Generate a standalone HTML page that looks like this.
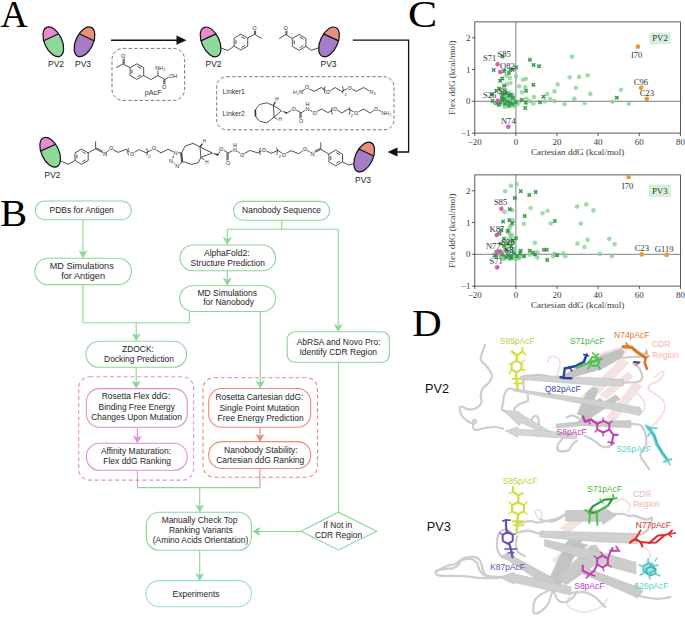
<!DOCTYPE html>
<html><head><meta charset="utf-8"><style>
html,body{margin:0;padding:0;background:#fff;width:685px;height:621px;overflow:hidden}
svg{display:block}
</style></head><body>
<svg width="685" height="621" viewBox="0 0 685 621">
<rect width="685" height="621" fill="#fff"/>
<text transform="translate(0.5,26.6) scale(1.02,1)" font-size="37" fill="#000" font-family='"Liberation Serif", serif'>A</text>
<text transform="translate(0.0,225.6) scale(1.1,1)" font-size="37" fill="#000" font-family='"Liberation Serif", serif'>B</text>
<text transform="translate(408.1,26.8) scale(1.15,1)" font-size="38" fill="#000" font-family='"Liberation Serif", serif'>C</text>
<text transform="translate(412.3,336.4) scale(1.1,1)" font-size="37" fill="#000" font-family='"Liberation Serif", serif'>D</text>
<g transform="translate(53.3,41.8) rotate(-25)">
<clipPath id="cp1"><ellipse cx="0" cy="0" rx="8.7" ry="15.9"/></clipPath>
<ellipse cx="0" cy="0" rx="8.7" ry="15.9" fill="#8fd89b"/>
<rect x="-8.7" y="-15.9" width="17.4" height="10.9" fill="#e58bcf" clip-path="url(#cp1)"/>
<line x1="-8.26" y1="-5.0" x2="8.26" y2="-5.0" stroke="#111" stroke-width="1.2"/>
<ellipse cx="0" cy="0" rx="8.7" ry="15.9" fill="none" stroke="#111" stroke-width="1.2"/>
</g>
<g transform="translate(84.5,41.8) rotate(25)">
<clipPath id="cp2"><ellipse cx="0" cy="0" rx="8.7" ry="15.9"/></clipPath>
<ellipse cx="0" cy="0" rx="8.7" ry="15.9" fill="#a77cc6"/>
<rect x="-8.7" y="-15.9" width="17.4" height="10.9" fill="#e8907f" clip-path="url(#cp2)"/>
<line x1="-8.26" y1="-5.0" x2="8.26" y2="-5.0" stroke="#111" stroke-width="1.2"/>
<ellipse cx="0" cy="0" rx="8.7" ry="15.9" fill="none" stroke="#111" stroke-width="1.2"/>
</g>
<text x="56.0" y="66.5" font-size="8.4" fill="#222" text-anchor="middle" font-family='"Liberation Sans", sans-serif' >PV2</text>
<text x="83.0" y="66.5" font-size="8.4" fill="#222" text-anchor="middle" font-family='"Liberation Sans", sans-serif' >PV3</text>
<g transform="translate(210.6,41.9) rotate(-25)">
<clipPath id="cp3"><ellipse cx="0" cy="0" rx="8.7" ry="15.9"/></clipPath>
<ellipse cx="0" cy="0" rx="8.7" ry="15.9" fill="#8fd89b"/>
<rect x="-8.7" y="-15.9" width="17.4" height="10.9" fill="#e58bcf" clip-path="url(#cp3)"/>
<line x1="-8.26" y1="-5.0" x2="8.26" y2="-5.0" stroke="#111" stroke-width="1.2"/>
<ellipse cx="0" cy="0" rx="8.7" ry="15.9" fill="none" stroke="#111" stroke-width="1.2"/>
</g>
<text x="213.5" y="66.5" font-size="8.4" fill="#222" text-anchor="middle" font-family='"Liberation Sans", sans-serif' >PV2</text>
<g transform="translate(329,41.9) rotate(25)">
<clipPath id="cp4"><ellipse cx="0" cy="0" rx="8.7" ry="15.9"/></clipPath>
<ellipse cx="0" cy="0" rx="8.7" ry="15.9" fill="#a77cc6"/>
<rect x="-8.7" y="-15.9" width="17.4" height="10.9" fill="#e8907f" clip-path="url(#cp4)"/>
<line x1="-8.26" y1="-5.0" x2="8.26" y2="-5.0" stroke="#111" stroke-width="1.2"/>
<ellipse cx="0" cy="0" rx="8.7" ry="15.9" fill="none" stroke="#111" stroke-width="1.2"/>
</g>
<text x="328.5" y="66.5" font-size="8.4" fill="#222" text-anchor="middle" font-family='"Liberation Sans", sans-serif' >PV3</text>
<g transform="translate(50.2,152.2) rotate(-25)">
<clipPath id="cp5"><ellipse cx="0" cy="0" rx="8.7" ry="15.9"/></clipPath>
<ellipse cx="0" cy="0" rx="8.7" ry="15.9" fill="#8fd89b"/>
<rect x="-8.7" y="-15.9" width="17.4" height="10.9" fill="#e58bcf" clip-path="url(#cp5)"/>
<line x1="-8.26" y1="-5.0" x2="8.26" y2="-5.0" stroke="#111" stroke-width="1.2"/>
<ellipse cx="0" cy="0" rx="8.7" ry="15.9" fill="none" stroke="#111" stroke-width="1.2"/>
</g>
<text x="52.5" y="177.5" font-size="8.4" fill="#222" text-anchor="middle" font-family='"Liberation Sans", sans-serif' >PV2</text>
<g transform="translate(364.2,157) rotate(25)">
<clipPath id="cp6"><ellipse cx="0" cy="0" rx="8.7" ry="15.9"/></clipPath>
<ellipse cx="0" cy="0" rx="8.7" ry="15.9" fill="#a77cc6"/>
<rect x="-8.7" y="-15.9" width="17.4" height="10.9" fill="#e8907f" clip-path="url(#cp6)"/>
<line x1="-8.26" y1="-5.0" x2="8.26" y2="-5.0" stroke="#111" stroke-width="1.2"/>
<ellipse cx="0" cy="0" rx="8.7" ry="15.9" fill="none" stroke="#111" stroke-width="1.2"/>
</g>
<text x="363.0" y="182.5" font-size="8.4" fill="#222" text-anchor="middle" font-family='"Liberation Sans", sans-serif' >PV3</text>
<line x1="111" y1="40.2" x2="179" y2="40.2" stroke="#111" stroke-width="1.4"/>
<polygon points="186.5,40.2 176.5,35.6 176.5,44.8" fill="#111"/>
<polyline points="352.8,40.2 408.6,40.2 408.6,152 395,152" fill="none" stroke="#111" stroke-width="1.3"/>
<polygon points="387.5,152 397.5,147.4 397.5,156.6" fill="#111"/>
<rect x="112" y="48.4" width="72.6" height="52" rx="11" fill="none" stroke="#555" stroke-width="0.8" stroke-dasharray="3.4,2.2"/>
<rect x="216.7" y="76.7" width="177.3" height="53.1" rx="10" fill="none" stroke="#555" stroke-width="0.8" stroke-dasharray="3.4,2.2"/>
<polygon points="136.9,63.8 143.7,67.7 143.7,75.5 136.9,79.4 130.1,75.5 130.1,67.7" fill="none" stroke="#333" stroke-width="0.85"/>
<line x1="137.6" y1="66.4" x2="141.0" y2="68.4" stroke="#333" stroke-width="0.85"/>
<line x1="141.0" y1="74.8" x2="137.6" y2="76.8" stroke="#333" stroke-width="0.85"/>
<line x1="132.0" y1="73.6" x2="132.0" y2="69.6" stroke="#333" stroke-width="0.85"/>
<polyline points="116.1,67.8 123.1,63.9 130.1,67.7" fill="none" stroke="#333" stroke-width="0.85" stroke-linejoin="round"/>
<line x1="123.1" y1="63.9" x2="123.1" y2="56.5" stroke="#333" stroke-width="0.85"/>
<line x1="124.2" y1="63.9" x2="124.2" y2="56.5" stroke="#333" stroke-width="0.85"/>
<text x="123.1" y="57.5" font-size="5.6" fill="#333" text-anchor="middle" font-family='"Liberation Sans", sans-serif' stroke="#fff" stroke-width="1.6" paint-order="stroke">O</text>
<polyline points="143.7,75.5 150.9,79.5 157.9,75.6 164.9,79.5 170.5,76.3" fill="none" stroke="#333" stroke-width="0.85" stroke-linejoin="round"/>
<line x1="157.9" y1="75.6" x2="157.9" y2="70.0" stroke="#333" stroke-width="0.85"/>
<text x="160.2" y="69.8" font-size="5.6" fill="#333" text-anchor="middle" font-family='"Liberation Sans", sans-serif' stroke="#fff" stroke-width="1.6" paint-order="stroke">NH<tspan font-size="3.6" dy="1">2</tspan></text>
<text x="173.1" y="77.6" font-size="5.6" fill="#333" text-anchor="middle" font-family='"Liberation Sans", sans-serif' stroke="#fff" stroke-width="1.6" paint-order="stroke">OH</text>
<line x1="164.9" y1="79.5" x2="164.9" y2="85.5" stroke="#333" stroke-width="0.85"/>
<line x1="163.8" y1="79.5" x2="163.8" y2="85.5" stroke="#333" stroke-width="0.85"/>
<text x="164.2" y="89.0" font-size="5.6" fill="#333" text-anchor="middle" font-family='"Liberation Sans", sans-serif' stroke="#fff" stroke-width="1.6" paint-order="stroke">O</text>
<text x="153.2" y="95.2" font-size="7.2" fill="#333" text-anchor="middle" font-family='"Liberation Sans", sans-serif' >pAcF</text>
<polygon points="240.9,34.2 247.7,38.1 247.7,46.1 240.9,50.0 234.1,46.1 234.1,38.1" fill="none" stroke="#333" stroke-width="0.85"/>
<line x1="241.6" y1="36.8" x2="245.1" y2="38.8" stroke="#333" stroke-width="0.85"/>
<line x1="245.1" y1="45.4" x2="241.6" y2="47.4" stroke="#333" stroke-width="0.85"/>
<line x1="236.0" y1="44.1" x2="236.0" y2="40.1" stroke="#333" stroke-width="0.85"/>
<polyline points="220.5,47.8 228.0,50.5 234.1,46.1" fill="none" stroke="#333" stroke-width="0.85" stroke-linejoin="round"/>
<polyline points="247.7,38.1 254.5,34.3 261.7,38.5" fill="none" stroke="#333" stroke-width="0.85" stroke-linejoin="round"/>
<line x1="254.5" y1="34.3" x2="254.5" y2="28.8" stroke="#333" stroke-width="0.85"/>
<line x1="255.6" y1="34.3" x2="255.6" y2="28.8" stroke="#333" stroke-width="0.85"/>
<text x="254.5" y="29.5" font-size="5.6" fill="#333" text-anchor="middle" font-family='"Liberation Sans", sans-serif' stroke="#fff" stroke-width="1.6" paint-order="stroke">O</text>
<polygon points="299.1,34.5 305.9,38.4 305.9,46.4 299.1,50.3 292.3,46.4 292.3,38.4" fill="none" stroke="#333" stroke-width="0.85"/>
<line x1="299.8" y1="37.1" x2="303.3" y2="39.1" stroke="#333" stroke-width="0.85"/>
<line x1="303.3" y1="45.7" x2="299.8" y2="47.7" stroke="#333" stroke-width="0.85"/>
<line x1="294.2" y1="44.4" x2="294.2" y2="40.4" stroke="#333" stroke-width="0.85"/>
<polyline points="279.2,38.6 285.8,34.6 292.3,38.4" fill="none" stroke="#333" stroke-width="0.85" stroke-linejoin="round"/>
<line x1="285.8" y1="34.6" x2="285.8" y2="28.8" stroke="#333" stroke-width="0.85"/>
<line x1="286.9" y1="34.6" x2="286.9" y2="28.8" stroke="#333" stroke-width="0.85"/>
<text x="285.8" y="29.5" font-size="5.6" fill="#333" text-anchor="middle" font-family='"Liberation Sans", sans-serif' stroke="#fff" stroke-width="1.6" paint-order="stroke">O</text>
<polyline points="305.9,46.4 311.4,50.3 319.5,47.5" fill="none" stroke="#333" stroke-width="0.85" stroke-linejoin="round"/>
<text x="222.6" y="93.5" font-size="6.8" fill="#333" text-anchor="start" font-family='"Liberation Sans", sans-serif' >Linker1</text>
<text x="222.6" y="116.4" font-size="6.8" fill="#333" text-anchor="start" font-family='"Liberation Sans", sans-serif' >Linker2</text>
<text x="298.0" y="94.2" font-size="5.6" fill="#333" text-anchor="middle" font-family='"Liberation Sans", sans-serif' stroke="#fff" stroke-width="1.6" paint-order="stroke">H<tspan font-size="3.6" dy="1">2</tspan><tspan dy="-1">N</tspan></text>
<polyline points="301.8,91.4 307.0,87.6 314.0,91.4 321.3,87.5 328.3,91.9 335.1,87.5 341.7,91.4 349.7,87.5 356.3,91.4 363.6,87.5 370.0,91.4" fill="none" stroke="#333" stroke-width="0.85" stroke-linejoin="round"/>
<text x="307.0" y="89.3" font-size="5.6" fill="#333" text-anchor="middle" font-family='"Liberation Sans", sans-serif' stroke="#fff" stroke-width="1.6" paint-order="stroke">O</text>
<text x="328.3" y="93.9" font-size="5.6" fill="#333" text-anchor="middle" font-family='"Liberation Sans", sans-serif' stroke="#fff" stroke-width="1.6" paint-order="stroke">O</text>
<text x="349.7" y="89.5" font-size="5.6" fill="#333" text-anchor="middle" font-family='"Liberation Sans", sans-serif' stroke="#fff" stroke-width="1.6" paint-order="stroke">O</text>
<text x="372.5" y="94.2" font-size="5.6" fill="#333" text-anchor="middle" font-family='"Liberation Sans", sans-serif' stroke="#fff" stroke-width="1.6" paint-order="stroke">N<tspan font-size="3.6" dy="1">3</tspan></text>
<path d="M325.0,86.2 Q323.2,89.8 325.0,93.4" fill="none" stroke="#333" stroke-width="0.8"/>
<path d="M342.4,86.2 Q344.2,89.8 342.4,93.4" fill="none" stroke="#333" stroke-width="0.8"/>
<text x="344.5" y="96" font-size="4.4" fill="#333" font-family='"Liberation Sans", sans-serif'>2</text>
<polygon points="273.4,105.5 266.5,102.8 259.5,104.5 255.3,110.0 255.6,116.5 259.8,121.3 266.8,122.8 274.1,117.2" fill="none" stroke="#333" stroke-width="0.85" stroke-linejoin="round"/>
<line x1="255.3" y1="110.0" x2="255.6" y2="116.5" stroke="#333" stroke-width="1.6"/>
<polyline points="273.4,105.5 281.4,110.7 274.1,117.2" fill="none" stroke="#333" stroke-width="0.85" stroke-linejoin="round"/>
<polygon points="281.4,110.7 286.7,114 287.2,112.2" fill="#333"/>
<line x1="273.4" y1="105.5" x2="275.5" y2="101.5" stroke="#333" stroke-width="1.3"/>
<text x="277.0" y="101.4" font-size="4.6" fill="#333" text-anchor="middle" font-family='"Liberation Sans", sans-serif' stroke="#fff" stroke-width="1.6" paint-order="stroke">H</text>
<line x1="274.1" y1="117.2" x2="277.5" y2="119.5" stroke="#333" stroke-width="0.85"/>
<text x="280.2" y="121.3" font-size="4.6" fill="#333" text-anchor="middle" font-family='"Liberation Sans", sans-serif' stroke="#fff" stroke-width="1.6" paint-order="stroke">H</text>
<polyline points="286.8,113.2 293.8,108.7 301.1,112.8 307.4,108.7 314.7,113.0 321.3,109.0 328.0,112.6 335.1,108.7 341.7,113.0 348.3,109.0 356.3,113.0 363.6,109.0 370.2,113.0 376.0,108.7 383.0,112.6" fill="none" stroke="#333" stroke-width="0.85" stroke-linejoin="round"/>
<line x1="301.1" y1="112.8" x2="301.1" y2="119.5" stroke="#333" stroke-width="0.85"/>
<line x1="300.0" y1="112.8" x2="300.0" y2="119.5" stroke="#333" stroke-width="0.85"/>
<text x="293.8" y="110.7" font-size="5.6" fill="#333" text-anchor="middle" font-family='"Liberation Sans", sans-serif' stroke="#fff" stroke-width="1.6" paint-order="stroke">O</text>
<text x="301.1" y="123.0" font-size="5.6" fill="#333" text-anchor="middle" font-family='"Liberation Sans", sans-serif' stroke="#fff" stroke-width="1.6" paint-order="stroke">O</text>
<text x="307.4" y="110.7" font-size="5.6" fill="#333" text-anchor="middle" font-family='"Liberation Sans", sans-serif' stroke="#fff" stroke-width="1.6" paint-order="stroke">N</text>
<text x="307.4" y="106.3" font-size="5.6" fill="#333" text-anchor="middle" font-family='"Liberation Sans", sans-serif' stroke="#fff" stroke-width="1.6" paint-order="stroke">H</text>
<text x="314.7" y="115.0" font-size="5.6" fill="#333" text-anchor="middle" font-family='"Liberation Sans", sans-serif' stroke="#fff" stroke-width="1.6" paint-order="stroke">O</text>
<text x="335.1" y="110.7" font-size="5.6" fill="#333" text-anchor="middle" font-family='"Liberation Sans", sans-serif' stroke="#fff" stroke-width="1.6" paint-order="stroke">O</text>
<text x="356.3" y="115.0" font-size="5.6" fill="#333" text-anchor="middle" font-family='"Liberation Sans", sans-serif' stroke="#fff" stroke-width="1.6" paint-order="stroke">O</text>
<text x="376.0" y="110.7" font-size="5.6" fill="#333" text-anchor="middle" font-family='"Liberation Sans", sans-serif' stroke="#fff" stroke-width="1.6" paint-order="stroke">O</text>
<text x="386.2" y="115.0" font-size="5.6" fill="#333" text-anchor="middle" font-family='"Liberation Sans", sans-serif' stroke="#fff" stroke-width="1.6" paint-order="stroke">NH<tspan font-size="3.6" dy="1">2</tspan></text>
<path d="M332.3,107.2 Q330.5,110.8 332.3,114.4" fill="none" stroke="#333" stroke-width="0.8"/>
<path d="M349.2,107.2 Q351.0,110.8 349.2,114.4" fill="none" stroke="#333" stroke-width="0.8"/>
<text x="350.5" y="117" font-size="4.4" fill="#333" font-family='"Liberation Sans", sans-serif'>2</text>
<polygon points="81.6,149.1 88.2,152.9 88.2,160.5 81.6,164.3 75.0,160.5 75.0,152.9" fill="none" stroke="#333" stroke-width="0.85"/>
<line x1="82.3" y1="151.6" x2="85.6" y2="153.6" stroke="#333" stroke-width="0.85"/>
<line x1="85.6" y1="159.8" x2="82.3" y2="161.8" stroke="#333" stroke-width="0.85"/>
<line x1="76.9" y1="158.6" x2="76.9" y2="154.8" stroke="#333" stroke-width="0.85"/>
<polyline points="59.5,160.5 68.1,164.2 75.0,160.5" fill="none" stroke="#333" stroke-width="0.85" stroke-linejoin="round"/>
<polyline points="88.2,152.9 95.6,148.9" fill="none" stroke="#333" stroke-width="0.85" stroke-linejoin="round"/>
<line x1="95.6" y1="148.9" x2="95.6" y2="141.4" stroke="#333" stroke-width="0.85"/>
<line x1="95.6" y1="148.9" x2="104.5" y2="153.5" stroke="#333" stroke-width="0.85"/>
<line x1="96.1" y1="147.9" x2="105.0" y2="152.5" stroke="#333" stroke-width="0.85"/>
<text x="104.9" y="156.2" font-size="5.6" fill="#333" text-anchor="middle" font-family='"Liberation Sans", sans-serif' stroke="#fff" stroke-width="1.6" paint-order="stroke">N</text>
<polyline points="104.9,153.7 111.1,148.4 118.1,152.4 126.0,149.3 132.1,153.8 139.1,149.6 146.1,152.8 154.0,148.6 161.0,152.8 168.0,149.3 174.5,152.5" fill="none" stroke="#333" stroke-width="0.85" stroke-linejoin="round"/>
<text x="111.1" y="150.4" font-size="5.6" fill="#333" text-anchor="middle" font-family='"Liberation Sans", sans-serif' stroke="#fff" stroke-width="1.6" paint-order="stroke">O</text>
<text x="132.1" y="156.2" font-size="5.6" fill="#333" text-anchor="middle" font-family='"Liberation Sans", sans-serif' stroke="#fff" stroke-width="1.6" paint-order="stroke">O</text>
<text x="154.0" y="150.4" font-size="5.6" fill="#333" text-anchor="middle" font-family='"Liberation Sans", sans-serif' stroke="#fff" stroke-width="1.6" paint-order="stroke">O</text>
<path d="M128.5,148.2 Q126.7,151.8 128.5,155.4" fill="none" stroke="#333" stroke-width="0.8"/>
<path d="M146.7,148.2 Q148.5,151.8 146.7,155.4" fill="none" stroke="#333" stroke-width="0.8"/>
<text x="148.2" y="158" font-size="4.4" fill="#333" font-family='"Liberation Sans", sans-serif'>2</text>
<polygon points="175.5,152.5 181.6,153.0 182.5,161.8 177.3,166.2 171.1,160.9" fill="none" stroke="#333" stroke-width="0.85" stroke-linejoin="round"/>
<line x1="181.6" y1="153.0" x2="182.5" y2="161.8" stroke="#333" stroke-width="0.85"/>
<line x1="180.6" y1="153.1" x2="181.5" y2="161.9" stroke="#333" stroke-width="0.85"/>
<text x="175.5" y="154.5" font-size="5.6" fill="#333" text-anchor="middle" font-family='"Liberation Sans", sans-serif' stroke="#fff" stroke-width="1.6" paint-order="stroke">N</text>
<text x="171.1" y="162.9" font-size="5.6" fill="#333" text-anchor="middle" font-family='"Liberation Sans", sans-serif' stroke="#fff" stroke-width="1.6" paint-order="stroke">N</text>
<text x="177.3" y="168.2" font-size="5.6" fill="#333" text-anchor="middle" font-family='"Liberation Sans", sans-serif' stroke="#fff" stroke-width="1.6" paint-order="stroke">N</text>
<polyline points="181.6,153.0 185.1,146.0 193.0,143.4 200.0,146.9 200.9,157.4 198.3,162.7 191.3,164.4 184.3,161.8 182.5,161.8" fill="none" stroke="#333" stroke-width="0.85" stroke-linejoin="round"/>
<polyline points="200.0,146.9 212.3,153.0 200.9,157.4" fill="none" stroke="#333" stroke-width="0.85" stroke-linejoin="round"/>
<polygon points="212.3,153 217.8,156 218.5,154" fill="#333"/>
<line x1="200.0" y1="146.9" x2="202.5" y2="143.5" stroke="#333" stroke-width="1.3"/>
<text x="204.4" y="143.3" font-size="4.6" fill="#333" text-anchor="middle" font-family='"Liberation Sans", sans-serif' stroke="#fff" stroke-width="1.6" paint-order="stroke">H</text>
<line x1="200.9" y1="157.4" x2="204.5" y2="160.0" stroke="#333" stroke-width="0.85"/>
<text x="207.0" y="163.5" font-size="4.6" fill="#333" text-anchor="middle" font-family='"Liberation Sans", sans-serif' stroke="#fff" stroke-width="1.6" paint-order="stroke">H</text>
<polyline points="218.0,155.0 221.1,148.7 228.1,153.0 235.1,149.5 242.1,154.8 250.0,150.4 257.9,153.0 264.0,149.5 271.0,153.4 278.0,150.4 284.0,154.5 291.0,150.7 298.9,153.7 305.0,148.9 312.4,153.7" fill="none" stroke="#333" stroke-width="0.85" stroke-linejoin="round"/>
<line x1="228.1" y1="153.0" x2="228.1" y2="161.0" stroke="#333" stroke-width="0.85"/>
<line x1="227.0" y1="153.0" x2="227.0" y2="161.0" stroke="#333" stroke-width="0.85"/>
<text x="221.1" y="150.7" font-size="5.6" fill="#333" text-anchor="middle" font-family='"Liberation Sans", sans-serif' stroke="#fff" stroke-width="1.6" paint-order="stroke">O</text>
<text x="228.1" y="164.7" font-size="5.6" fill="#333" text-anchor="middle" font-family='"Liberation Sans", sans-serif' stroke="#fff" stroke-width="1.6" paint-order="stroke">O</text>
<text x="235.1" y="151.5" font-size="5.6" fill="#333" text-anchor="middle" font-family='"Liberation Sans", sans-serif' stroke="#fff" stroke-width="1.6" paint-order="stroke">N</text>
<text x="235.1" y="146.6" font-size="5.6" fill="#333" text-anchor="middle" font-family='"Liberation Sans", sans-serif' stroke="#fff" stroke-width="1.6" paint-order="stroke">H</text>
<text x="242.1" y="156.8" font-size="5.6" fill="#333" text-anchor="middle" font-family='"Liberation Sans", sans-serif' stroke="#fff" stroke-width="1.6" paint-order="stroke">O</text>
<text x="264.0" y="151.5" font-size="5.6" fill="#333" text-anchor="middle" font-family='"Liberation Sans", sans-serif' stroke="#fff" stroke-width="1.6" paint-order="stroke">O</text>
<text x="284.0" y="156.5" font-size="5.6" fill="#333" text-anchor="middle" font-family='"Liberation Sans", sans-serif' stroke="#fff" stroke-width="1.6" paint-order="stroke">O</text>
<text x="305.0" y="150.9" font-size="5.6" fill="#333" text-anchor="middle" font-family='"Liberation Sans", sans-serif' stroke="#fff" stroke-width="1.6" paint-order="stroke">O</text>
<path d="M260.4,147.7 Q258.6,151.3 260.4,154.9" fill="none" stroke="#333" stroke-width="0.8"/>
<path d="M276.7,147.7 Q278.5,151.3 276.7,154.9" fill="none" stroke="#333" stroke-width="0.8"/>
<text x="278.5" y="158" font-size="4.4" fill="#333" font-family='"Liberation Sans", sans-serif'>2</text>
<line x1="312.4" y1="153.7" x2="320.8" y2="149.3" stroke="#333" stroke-width="0.85"/>
<line x1="311.9" y1="152.7" x2="320.3" y2="148.3" stroke="#333" stroke-width="0.85"/>
<text x="312.4" y="156.0" font-size="5.6" fill="#333" text-anchor="middle" font-family='"Liberation Sans", sans-serif' stroke="#fff" stroke-width="1.6" paint-order="stroke">N</text>
<line x1="320.8" y1="149.3" x2="320.8" y2="142.3" stroke="#333" stroke-width="0.85"/>
<polygon points="335.7,150.1 342.5,154.1 342.5,161.9 335.7,165.9 328.9,161.9 328.9,154.1" fill="none" stroke="#333" stroke-width="0.85"/>
<line x1="336.4" y1="152.7" x2="339.9" y2="154.7" stroke="#333" stroke-width="0.85"/>
<line x1="339.9" y1="161.3" x2="336.4" y2="163.3" stroke="#333" stroke-width="0.85"/>
<line x1="330.8" y1="160.0" x2="330.8" y2="156.0" stroke="#333" stroke-width="0.85"/>
<polyline points="320.8,149.3 328.9,154.1" fill="none" stroke="#333" stroke-width="0.85" stroke-linejoin="round"/>
<polyline points="342.5,161.9 348.8,165.0 354.0,163.5" fill="none" stroke="#333" stroke-width="0.85" stroke-linejoin="round"/>
<polyline points="83,219.7 83,256" fill="none" stroke="#8dd598" stroke-width="1.1"/>
<polygon points="83,258.3 78.5,250.3 83,252.3 87.5,250.3" fill="#8dd598"/>
<polyline points="83,284.6 83,322.8 189.3,322.8 189.3,311.5" fill="none" stroke="#8dd598" stroke-width="1.1"/>
<polyline points="136.2,322.8 136.2,339" fill="none" stroke="#8dd598" stroke-width="1.1"/>
<polygon points="136.2,341.2 131.7,333.2 136.2,335.2 140.7,333.2" fill="#8dd598"/>
<polyline points="281.7,220.5 281.7,229.2" fill="none" stroke="#8dd598" stroke-width="1.1"/>
<polyline points="227.3,229.2 338.2,229.2" fill="none" stroke="#8dd598" stroke-width="1.1"/>
<polyline points="227.3,229.2 227.3,243" fill="none" stroke="#8dd598" stroke-width="1.1"/>
<polygon points="227.3,245 222.8,237 227.3,239 231.8,237" fill="#8dd598"/>
<polyline points="338.2,229.2 338.2,330" fill="none" stroke="#8dd598" stroke-width="1.1"/>
<polygon points="338.2,331.9 333.7,323.9 338.2,325.9 342.7,323.9" fill="#8dd598"/>
<polyline points="227.3,270.7 227.3,284" fill="none" stroke="#8dd598" stroke-width="1.1"/>
<polygon points="227.3,285.7 222.8,277.7 227.3,279.7 231.8,277.7" fill="#8dd598"/>
<polyline points="136.2,367.2 136.2,387" fill="none" stroke="#8dd598" stroke-width="1.1"/>
<polygon points="136.2,388.7 131.7,380.7 136.2,382.7 140.7,380.7" fill="#8dd598"/>
<polyline points="260.2,311.5 260.2,387" fill="none" stroke="#8dd598" stroke-width="1.1"/>
<polygon points="260.2,388.4 255.7,380.4 260.2,382.4 264.7,380.4" fill="#8dd598"/>
<polyline points="137.4,427.4 137.4,442" fill="none" stroke="#e08fd2" stroke-width="1.1"/>
<polygon points="137.4,443.4 132.9,435.4 137.4,437.4 141.9,435.4" fill="#e08fd2"/>
<polyline points="259.9,427.4 259.9,440.5" fill="none" stroke="#e88a7c" stroke-width="1.1"/>
<polygon points="259.9,441.9 255.39999999999998,433.9 259.9,435.9 264.4,433.9" fill="#e88a7c"/>
<polyline points="137.4,470.4 137.4,487.6" fill="none" stroke="#e08fd2" stroke-width="1.1"/>
<polyline points="259.9,468.5 259.9,487.6" fill="none" stroke="#e88a7c" stroke-width="1.1"/>
<polyline points="137.4,487.6 259.9,487.6" fill="none" stroke="#8dd598" stroke-width="1.1"/>
<polyline points="199.7,487.6 199.7,511" fill="none" stroke="#8dd598" stroke-width="1.1"/>
<polygon points="199.7,512.5 195.2,504.5 199.7,506.5 204.2,504.5" fill="#8dd598"/>
<polyline points="199.7,550.6 199.7,579" fill="none" stroke="#8dd598" stroke-width="1.1"/>
<polygon points="199.7,581 195.2,573 199.7,575 204.2,573" fill="#8dd598"/>
<polyline points="338.6,362.4 338.6,512.2" fill="none" stroke="#8dd598" stroke-width="1.1"/>
<polyline points="301,531.5 254,531.5" fill="none" stroke="#8dd598" stroke-width="1.1"/>
<polygon points="252.3,531.5 260.3,527.0 258.3,531.5 260.3,536.0" fill="#8dd598"/>
<rect x="78.7" y="376.8" width="114.9" height="103.3" rx="11" fill="none" stroke="#e08fd2" stroke-width="1.1" stroke-dasharray="4,2.8"/>
<rect x="203.1" y="377.7" width="114.4" height="99.5" rx="11" fill="none" stroke="#e88a7c" stroke-width="1.1" stroke-dasharray="4,2.8"/>
<rect x="35.3" y="201" width="96.1" height="18.7" rx="9.349999999999994" fill="#fff" stroke="#8dd598" stroke-width="1.1"/>
<text x="81.7" y="212.6" font-size="8.45" fill="#1e1e1e" text-anchor="middle" font-family='"Liberation Sans", sans-serif' >PDBs for Antigen</text>
<rect x="34.9" y="258.3" width="96.5" height="26.3" rx="13" fill="#fff" stroke="#8dd598" stroke-width="1.1"/>
<text x="81.7" y="268.9" font-size="9.17" fill="#1e1e1e" text-anchor="middle" font-family='"Liberation Sans", sans-serif' >MD Simulations</text>
<text x="83.1" y="279.0" font-size="9.2" fill="#1e1e1e" text-anchor="middle" font-family='"Liberation Sans", sans-serif' >for Antigen</text>
<rect x="233.4" y="201.4" width="96.3" height="18.8" rx="9.399999999999991" fill="#fff" stroke="#8dd598" stroke-width="1.1"/>
<text x="281.6" y="212.9" font-size="8.46" fill="#1e1e1e" text-anchor="middle" font-family='"Liberation Sans", sans-serif' >Nanobody Sequence</text>
<rect x="180" y="245" width="95.6" height="25.7" rx="12.849999999999994" fill="#fff" stroke="#8dd598" stroke-width="1.1"/>
<text x="226.8" y="256.1" font-size="8.58" fill="#1e1e1e" text-anchor="middle" font-family='"Liberation Sans", sans-serif' >AlphaFold2:</text>
<text x="227.8" y="265.9" font-size="8.47" fill="#1e1e1e" text-anchor="middle" font-family='"Liberation Sans", sans-serif' >Structure Prediction</text>
<rect x="179.7" y="285.7" width="95.9" height="25.8" rx="12.900000000000006" fill="#fff" stroke="#8dd598" stroke-width="1.1"/>
<text x="227.3" y="295.5" font-size="8.53" fill="#1e1e1e" text-anchor="middle" font-family='"Liberation Sans", sans-serif' >MD Simulations</text>
<text x="228.6" y="305.4" font-size="8.48" fill="#1e1e1e" text-anchor="middle" font-family='"Liberation Sans", sans-serif' >for Nanobody</text>
<rect x="85.9" y="341.3" width="100.7" height="26.0" rx="13.0" fill="#fff" stroke="#8dd598" stroke-width="1.1"/>
<text x="138.0" y="351.8" font-size="8.44" fill="#1e1e1e" text-anchor="middle" font-family='"Liberation Sans", sans-serif' >ZDOCK:</text>
<text x="139.0" y="361.6" font-size="8.4" fill="#1e1e1e" text-anchor="middle" font-family='"Liberation Sans", sans-serif' >Docking Prediction</text>
<rect x="287.2" y="331.8" width="102.2" height="30.5" rx="7.5" fill="#fff" stroke="#8dd598" stroke-width="1.1"/>
<text x="338.6" y="345.4" font-size="8.47" fill="#1e1e1e" text-anchor="middle" font-family='"Liberation Sans", sans-serif' >AbRSA and Novo Pro:</text>
<text x="338.2" y="355.2" font-size="8.5" fill="#1e1e1e" text-anchor="middle" font-family='"Liberation Sans", sans-serif' >Identify CDR Region</text>
<rect x="86.4" y="388.6" width="100.8" height="38.6" rx="13" fill="#fff" stroke="#e08fd2" stroke-width="1.1"/>
<text x="136.0" y="399.3" font-size="8.53" fill="#1e1e1e" text-anchor="middle" font-family='"Liberation Sans", sans-serif' >Rosetta Flex ddG:</text>
<text x="136.8" y="409.9" font-size="8.4" fill="#1e1e1e" text-anchor="middle" font-family='"Liberation Sans", sans-serif' >Binding Free Energy</text>
<text x="136.6" y="419.8" font-size="8.41" fill="#1e1e1e" text-anchor="middle" font-family='"Liberation Sans", sans-serif' >Changes Upon Mutation</text>
<rect x="86.4" y="443.3" width="100.8" height="27.0" rx="13" fill="#fff" stroke="#e08fd2" stroke-width="1.1"/>
<text x="136.0" y="453.8" font-size="8.5" fill="#1e1e1e" text-anchor="middle" font-family='"Liberation Sans", sans-serif' >Affinity Maturation:</text>
<text x="137.2" y="463.9" font-size="8.47" fill="#1e1e1e" text-anchor="middle" font-family='"Liberation Sans", sans-serif' >Flex ddG Ranking</text>
<rect x="208.7" y="388.5" width="102.0" height="38.7" rx="13" fill="#fff" stroke="#e88a7c" stroke-width="1.1"/>
<text x="259.4" y="400.4" font-size="8.41" fill="#1e1e1e" text-anchor="middle" font-family='"Liberation Sans", sans-serif' >Rosetta Cartesian ddG:</text>
<text x="259.4" y="410.7" font-size="8.46" fill="#1e1e1e" text-anchor="middle" font-family='"Liberation Sans", sans-serif' >Single Point Mutation</text>
<text x="260.6" y="420.9" font-size="8.44" fill="#1e1e1e" text-anchor="middle" font-family='"Liberation Sans", sans-serif' >Free Energy Prediction</text>
<rect x="208.7" y="441.6" width="102.0" height="26.9" rx="13" fill="#fff" stroke="#e88a7c" stroke-width="1.1"/>
<text x="260.9" y="452.6" font-size="8.57" fill="#1e1e1e" text-anchor="middle" font-family='"Liberation Sans", sans-serif' >Nanobody Stability:</text>
<text x="260.2" y="463.1" font-size="8.47" fill="#1e1e1e" text-anchor="middle" font-family='"Liberation Sans", sans-serif' >Cartesian ddG Ranking</text>
<rect x="146.3" y="512.3" width="105.1" height="38.0" rx="13" fill="#fff" stroke="#8dd598" stroke-width="1.1"/>
<text x="199.5" y="523.2" font-size="8.43" fill="#1e1e1e" text-anchor="middle" font-family='"Liberation Sans", sans-serif' >Manually Check Top</text>
<text x="200.8" y="533.2" font-size="8.45" fill="#1e1e1e" text-anchor="middle" font-family='"Liberation Sans", sans-serif' >Ranking Variants</text>
<text x="200.5" y="543.4" font-size="8.44" fill="#1e1e1e" text-anchor="middle" font-family='"Liberation Sans", sans-serif' >(Amino Acids Orientation)</text>
<rect x="145.9" y="580.6" width="105.5" height="26.1" rx="13" fill="#fff" stroke="#92dde2" stroke-width="1.1"/>
<text x="196.1" y="597.0" font-size="8.46" fill="#1e1e1e" text-anchor="middle" font-family='"Liberation Sans", sans-serif' >Experiments</text>
<polygon points="300.9,531.3 338.4,512.2 376.7,531.3 338.4,549.9" fill="#fff" stroke="#8dd598" stroke-width="1.1"/>
<text x="337.7" y="527.6" font-size="8.4" fill="#1e1e1e" text-anchor="middle" font-family='"Liberation Sans", sans-serif' >If Not in</text>
<text x="338.6" y="537.6" font-size="8.43" fill="#1e1e1e" text-anchor="middle" font-family='"Liberation Sans", sans-serif' >CDR Region</text>
<rect x="474.8" y="21.9" width="205.6" height="111.2" fill="none" stroke="#333" stroke-width="0.8"/>
<line x1="474.8" y1="101.3" x2="680.4" y2="101.3" stroke="#4a4a4a" stroke-width="0.7"/>
<line x1="515.9" y1="21.9" x2="515.9" y2="133.1" stroke="#4a4a4a" stroke-width="0.7"/>
<line x1="471.8" y1="37.8" x2="474.8" y2="37.8" stroke="#333" stroke-width="0.8"/>
<text x="470.5" y="40.9" font-size="9" fill="#3a3a3a" text-anchor="end" font-family='"Liberation Serif", serif' >2</text>
<line x1="471.8" y1="69.5" x2="474.8" y2="69.5" stroke="#333" stroke-width="0.8"/>
<text x="470.5" y="72.6" font-size="9" fill="#3a3a3a" text-anchor="end" font-family='"Liberation Serif", serif' >1</text>
<line x1="471.8" y1="101.3" x2="474.8" y2="101.3" stroke="#333" stroke-width="0.8"/>
<text x="470.5" y="104.4" font-size="9" fill="#3a3a3a" text-anchor="end" font-family='"Liberation Serif", serif' >0</text>
<line x1="471.8" y1="133.1" x2="474.8" y2="133.1" stroke="#333" stroke-width="0.8"/>
<text x="470.5" y="136.2" font-size="9" fill="#3a3a3a" text-anchor="end" font-family='"Liberation Serif", serif' >−1</text>
<line x1="474.8" y1="133.1" x2="474.8" y2="136.1" stroke="#333" stroke-width="0.8"/>
<text x="474.8" y="144.7" font-size="9" fill="#3a3a3a" text-anchor="middle" font-family='"Liberation Serif", serif' >−20</text>
<line x1="515.9" y1="133.1" x2="515.9" y2="136.1" stroke="#333" stroke-width="0.8"/>
<text x="515.9" y="144.7" font-size="9" fill="#3a3a3a" text-anchor="middle" font-family='"Liberation Serif", serif' >0</text>
<line x1="557.0" y1="133.1" x2="557.0" y2="136.1" stroke="#333" stroke-width="0.8"/>
<text x="557.0" y="144.7" font-size="9" fill="#3a3a3a" text-anchor="middle" font-family='"Liberation Serif", serif' >20</text>
<line x1="598.1" y1="133.1" x2="598.1" y2="136.1" stroke="#333" stroke-width="0.8"/>
<text x="598.1" y="144.7" font-size="9" fill="#3a3a3a" text-anchor="middle" font-family='"Liberation Serif", serif' >40</text>
<line x1="639.3" y1="133.1" x2="639.3" y2="136.1" stroke="#333" stroke-width="0.8"/>
<text x="639.3" y="144.7" font-size="9" fill="#3a3a3a" text-anchor="middle" font-family='"Liberation Serif", serif' >60</text>
<line x1="680.4" y1="133.1" x2="680.4" y2="136.1" stroke="#333" stroke-width="0.8"/>
<text x="680.4" y="144.7" font-size="9" fill="#3a3a3a" text-anchor="middle" font-family='"Liberation Serif", serif' >80</text>
<text x="577.6" y="155.4" font-size="9.2" fill="#3a3a3a" text-anchor="middle" font-family='"Liberation Serif", serif' >Cartesian ddG (kcal/mol)</text>
<text transform="translate(454.6,77.5) rotate(-90)" font-size="9.1" fill="#3a3a3a" text-anchor="middle" font-family='"Liberation Serif", serif'>Flex ddG (kcal/mol)</text>
<circle cx="516" cy="76.6" r="2.3" fill="#7fd08c" fill-opacity="0.75"/>
<circle cx="506.3" cy="75.6" r="2.3" fill="#7fd08c" fill-opacity="0.75"/>
<circle cx="509.8" cy="77.9" r="2.3" fill="#7fd08c" fill-opacity="0.75"/>
<circle cx="522.9" cy="79.8" r="2.3" fill="#7fd08c" fill-opacity="0.75"/>
<circle cx="525.8" cy="78.7" r="2.3" fill="#7fd08c" fill-opacity="0.75"/>
<circle cx="510.5" cy="83" r="2.3" fill="#7fd08c" fill-opacity="0.75"/>
<circle cx="506.8" cy="84.4" r="2.3" fill="#7fd08c" fill-opacity="0.75"/>
<circle cx="519.2" cy="86.2" r="2.3" fill="#7fd08c" fill-opacity="0.75"/>
<circle cx="525.2" cy="87.1" r="2.3" fill="#7fd08c" fill-opacity="0.75"/>
<circle cx="521.9" cy="92.4" r="2.3" fill="#7fd08c" fill-opacity="0.75"/>
<circle cx="533.9" cy="97" r="2.3" fill="#7fd08c" fill-opacity="0.75"/>
<circle cx="526.5" cy="98.9" r="2.3" fill="#7fd08c" fill-opacity="0.75"/>
<circle cx="530.2" cy="101.3" r="2.3" fill="#7fd08c" fill-opacity="0.75"/>
<circle cx="533.4" cy="103.6" r="2.3" fill="#7fd08c" fill-opacity="0.75"/>
<circle cx="544.9" cy="101.3" r="2.3" fill="#7fd08c" fill-opacity="0.75"/>
<circle cx="547.2" cy="94" r="2.3" fill="#7fd08c" fill-opacity="0.75"/>
<circle cx="517.4" cy="104.5" r="2.3" fill="#7fd08c" fill-opacity="0.75"/>
<circle cx="520.1" cy="101.3" r="2.3" fill="#7fd08c" fill-opacity="0.75"/>
<circle cx="503.6" cy="96.3" r="2.3" fill="#7fd08c" fill-opacity="0.75"/>
<circle cx="506.3" cy="98.1" r="2.3" fill="#7fd08c" fill-opacity="0.75"/>
<circle cx="509.1" cy="99" r="2.3" fill="#7fd08c" fill-opacity="0.75"/>
<circle cx="511.9" cy="100" r="2.3" fill="#7fd08c" fill-opacity="0.75"/>
<circle cx="513.7" cy="102.7" r="2.3" fill="#7fd08c" fill-opacity="0.75"/>
<circle cx="504.5" cy="102.7" r="2.3" fill="#7fd08c" fill-opacity="0.75"/>
<circle cx="501.8" cy="103.6" r="2.3" fill="#7fd08c" fill-opacity="0.75"/>
<circle cx="508.2" cy="104.5" r="2.3" fill="#7fd08c" fill-opacity="0.75"/>
<circle cx="511.4" cy="105" r="2.3" fill="#7fd08c" fill-opacity="0.75"/>
<circle cx="505.4" cy="91.7" r="2.3" fill="#7fd08c" fill-opacity="0.75"/>
<circle cx="509.1" cy="92.6" r="2.3" fill="#7fd08c" fill-opacity="0.75"/>
<circle cx="512.8" cy="95.4" r="2.3" fill="#7fd08c" fill-opacity="0.75"/>
<circle cx="500.8" cy="93.5" r="2.3" fill="#7fd08c" fill-opacity="0.75"/>
<circle cx="502.7" cy="89.9" r="2.3" fill="#7fd08c" fill-opacity="0.75"/>
<circle cx="513.7" cy="98.1" r="2.3" fill="#7fd08c" fill-opacity="0.75"/>
<circle cx="507" cy="101" r="2.3" fill="#7fd08c" fill-opacity="0.75"/>
<circle cx="510" cy="97" r="2.3" fill="#7fd08c" fill-opacity="0.75"/>
<circle cx="571.9" cy="56.6" r="2.3" fill="#7fd08c" fill-opacity="0.75"/>
<circle cx="569.7" cy="77.2" r="2.3" fill="#7fd08c" fill-opacity="0.75"/>
<circle cx="579.1" cy="76.9" r="2.3" fill="#7fd08c" fill-opacity="0.75"/>
<circle cx="587.6" cy="75.2" r="2.3" fill="#7fd08c" fill-opacity="0.75"/>
<circle cx="557.6" cy="84.4" r="2.3" fill="#7fd08c" fill-opacity="0.75"/>
<circle cx="575.8" cy="87.8" r="2.3" fill="#7fd08c" fill-opacity="0.75"/>
<circle cx="590.3" cy="93.9" r="2.3" fill="#7fd08c" fill-opacity="0.75"/>
<circle cx="554.5" cy="91.4" r="2.3" fill="#7fd08c" fill-opacity="0.75"/>
<circle cx="550.1" cy="98.7" r="2.3" fill="#7fd08c" fill-opacity="0.75"/>
<circle cx="554.5" cy="101.1" r="2.3" fill="#7fd08c" fill-opacity="0.75"/>
<circle cx="564.6" cy="104.2" r="2.3" fill="#7fd08c" fill-opacity="0.75"/>
<circle cx="574.3" cy="98.9" r="2.3" fill="#7fd08c" fill-opacity="0.75"/>
<circle cx="584.7" cy="103" r="2.3" fill="#7fd08c" fill-opacity="0.75"/>
<circle cx="612.5" cy="101.8" r="2.3" fill="#7fd08c" fill-opacity="0.75"/>
<circle cx="621" cy="89.7" r="2.3" fill="#7fd08c" fill-opacity="0.75"/>
<circle cx="628.7" cy="103.8" r="2.3" fill="#7fd08c" fill-opacity="0.75"/>
<circle cx="495" cy="103" r="2.3" fill="#7fd08c" fill-opacity="0.75"/>
<circle cx="499" cy="105" r="2.3" fill="#7fd08c" fill-opacity="0.75"/>
<circle cx="505" cy="107" r="2.3" fill="#7fd08c" fill-opacity="0.75"/>
<circle cx="514" cy="106" r="2.3" fill="#7fd08c" fill-opacity="0.75"/>
<circle cx="503" cy="98" r="2.3" fill="#7fd08c" fill-opacity="0.75"/>
<circle cx="508" cy="96" r="2.3" fill="#7fd08c" fill-opacity="0.75"/>
<path d="M528.1999999999999,58.099999999999994L531.6,61.5M528.1999999999999,61.5L531.6,58.099999999999994" stroke="#2f8f45" stroke-width="1.6" stroke-opacity="0.9"/>
<path d="M531.9,63.2L535.3000000000001,66.60000000000001M531.9,66.60000000000001L535.3000000000001,63.2" stroke="#2f8f45" stroke-width="1.6" stroke-opacity="0.9"/>
<path d="M537.4,64.5L540.8000000000001,67.9M537.4,67.9L540.8000000000001,64.5" stroke="#2f8f45" stroke-width="1.6" stroke-opacity="0.9"/>
<path d="M514.3,65.7L517.7,69.10000000000001M514.3,69.10000000000001L517.7,65.7" stroke="#2f8f45" stroke-width="1.6" stroke-opacity="0.9"/>
<path d="M492.0,68.39999999999999L495.4,71.8M492.0,71.8L495.4,68.39999999999999" stroke="#2f8f45" stroke-width="1.6" stroke-opacity="0.9"/>
<path d="M502.40000000000003,69.6L505.8,73.0M502.40000000000003,73.0L505.8,69.6" stroke="#2f8f45" stroke-width="1.6" stroke-opacity="0.9"/>
<path d="M508.8,67.8L512.2,71.2M508.8,71.2L512.2,67.8" stroke="#2f8f45" stroke-width="1.6" stroke-opacity="0.9"/>
<path d="M511.09999999999997,68.0L514.5,71.4M511.09999999999997,71.4L514.5,68.0" stroke="#2f8f45" stroke-width="1.6" stroke-opacity="0.9"/>
<path d="M507.2,71.2L510.59999999999997,74.60000000000001M507.2,74.60000000000001L510.59999999999997,71.2" stroke="#2f8f45" stroke-width="1.6" stroke-opacity="0.9"/>
<path d="M500.5,76.7L503.9,80.10000000000001M500.5,80.10000000000001L503.9,76.7" stroke="#2f8f45" stroke-width="1.6" stroke-opacity="0.9"/>
<path d="M498.5,79.0L501.9,82.4M498.5,82.4L501.9,79.0" stroke="#2f8f45" stroke-width="1.6" stroke-opacity="0.9"/>
<path d="M502.40000000000003,84.0L505.8,87.4M502.40000000000003,87.4L505.8,84.0" stroke="#2f8f45" stroke-width="1.6" stroke-opacity="0.9"/>
<path d="M531.6999999999999,83.1L535.1,86.5M531.6999999999999,86.5L535.1,83.1" stroke="#2f8f45" stroke-width="1.6" stroke-opacity="0.9"/>
<path d="M497.3,86.8L500.7,90.2M497.3,90.2L500.7,86.8" stroke="#2f8f45" stroke-width="1.6" stroke-opacity="0.9"/>
<path d="M494.6,89.1L498.0,92.5M494.6,92.5L498.0,89.1" stroke="#2f8f45" stroke-width="1.6" stroke-opacity="0.9"/>
<path d="M524.4,89.1L527.8000000000001,92.5M524.4,92.5L527.8000000000001,89.1" stroke="#2f8f45" stroke-width="1.6" stroke-opacity="0.9"/>
<path d="M490.0,92.7L493.4,96.10000000000001M490.0,96.10000000000001L493.4,92.7" stroke="#2f8f45" stroke-width="1.6" stroke-opacity="0.9"/>
<path d="M541.8,95.0L545.2,98.4M541.8,98.4L545.2,95.0" stroke="#2f8f45" stroke-width="1.6" stroke-opacity="0.9"/>
<path d="M520.1999999999999,98.1L523.6,101.5M520.1999999999999,101.5L523.6,98.1" stroke="#2f8f45" stroke-width="1.6" stroke-opacity="0.9"/>
<path d="M490.90000000000003,99.2L494.3,102.60000000000001M490.90000000000003,102.60000000000001L494.3,99.2" stroke="#2f8f45" stroke-width="1.6" stroke-opacity="0.9"/>
<path d="M524.0999999999999,101.0L527.5,104.4M524.0999999999999,104.4L527.5,101.0" stroke="#2f8f45" stroke-width="1.6" stroke-opacity="0.9"/>
<path d="M538.4,100.5L541.8000000000001,103.9M538.4,103.9L541.8000000000001,100.5" stroke="#2f8f45" stroke-width="1.6" stroke-opacity="0.9"/>
<path d="M497.1,102.8L500.5,106.2M497.1,106.2L500.5,102.8" stroke="#2f8f45" stroke-width="1.6" stroke-opacity="0.9"/>
<path d="M523.5,106.3L526.9000000000001,109.7M523.5,109.7L526.9000000000001,106.3" stroke="#2f8f45" stroke-width="1.6" stroke-opacity="0.9"/>
<path d="M504.6,91.8L508.0,95.2M504.6,95.2L508.0,91.8" stroke="#2f8f45" stroke-width="1.6" stroke-opacity="0.9"/>
<path d="M507.40000000000003,93.7L510.8,97.10000000000001M507.40000000000003,97.10000000000001L510.8,93.7" stroke="#2f8f45" stroke-width="1.6" stroke-opacity="0.9"/>
<path d="M509.2,92.7L512.6,96.10000000000001M509.2,96.10000000000001L512.6,92.7" stroke="#2f8f45" stroke-width="1.6" stroke-opacity="0.9"/>
<path d="M501.0,92.7L504.4,96.10000000000001M501.0,96.10000000000001L504.4,92.7" stroke="#2f8f45" stroke-width="1.6" stroke-opacity="0.9"/>
<path d="M511.09999999999997,96.39999999999999L514.5,99.8M511.09999999999997,99.8L514.5,96.39999999999999" stroke="#2f8f45" stroke-width="1.6" stroke-opacity="0.9"/>
<path d="M505.6,100.1L509.0,103.5M505.6,103.5L509.0,100.1" stroke="#2f8f45" stroke-width="1.6" stroke-opacity="0.9"/>
<path d="M508.3,101.0L511.7,104.4M508.3,104.4L511.7,101.0" stroke="#2f8f45" stroke-width="1.6" stroke-opacity="0.9"/>
<path d="M502.8,97.3L506.2,100.7M502.8,100.7L506.2,97.3" stroke="#2f8f45" stroke-width="1.6" stroke-opacity="0.9"/>
<path d="M500.1,96.39999999999999L503.5,99.8M500.1,99.8L503.5,96.39999999999999" stroke="#2f8f45" stroke-width="1.6" stroke-opacity="0.9"/>
<path d="M500.8,54.8L504.2,58.2M500.8,58.2L504.2,54.8" stroke="#2f8f45" stroke-width="1.6" stroke-opacity="0.9"/>
<path d="M615.0999999999999,96.0L618.5,99.4M615.0999999999999,99.4L618.5,96.0" stroke="#2f8f45" stroke-width="1.6" stroke-opacity="0.9"/>
<path d="M495.3,101.3L498.7,104.7M495.3,104.7L498.7,101.3" stroke="#2f8f45" stroke-width="1.6" stroke-opacity="0.9"/>
<path d="M498.3,100.3L501.7,103.7M498.3,103.7L501.7,100.3" stroke="#2f8f45" stroke-width="1.6" stroke-opacity="0.9"/>
<path d="M503.3,102.3L506.7,105.7M503.3,105.7L506.7,102.3" stroke="#2f8f45" stroke-width="1.6" stroke-opacity="0.9"/>
<path d="M507.3,104.3L510.7,107.7M507.3,107.7L510.7,104.3" stroke="#2f8f45" stroke-width="1.6" stroke-opacity="0.9"/>
<path d="M511.3,102.3L514.7,105.7M511.3,105.7L514.7,102.3" stroke="#2f8f45" stroke-width="1.6" stroke-opacity="0.9"/>
<path d="M514.3,100.3L517.7,103.7M514.3,103.7L517.7,100.3" stroke="#2f8f45" stroke-width="1.6" stroke-opacity="0.9"/>
<path d="M501.3,98.3L504.7,101.7M501.3,101.7L504.7,98.3" stroke="#2f8f45" stroke-width="1.6" stroke-opacity="0.9"/>
<circle cx="497.6" cy="64.2" r="2.25" fill="#e455b3"/>
<circle cx="500.2" cy="72" r="2.25" fill="#e455b3"/>
<circle cx="497.9" cy="100.7" r="2.25" fill="#e455b3"/>
<circle cx="508.3" cy="126.8" r="2.25" fill="#e455b3"/>
<circle cx="637.9" cy="46.7" r="2.35" fill="#ee9a2a"/>
<circle cx="641" cy="87.8" r="2.35" fill="#ee9a2a"/>
<circle cx="646.8" cy="98.9" r="2.35" fill="#ee9a2a"/>
<text x="489.7" y="61.2" font-size="8.6" fill="#333" text-anchor="middle" font-family='"Liberation Serif", serif' >S71</text>
<text x="504.2" y="57.1" font-size="8.6" fill="#333" text-anchor="middle" font-family='"Liberation Serif", serif' >S85</text>
<text x="507.4" y="68.9" font-size="8.6" fill="#333" text-anchor="middle" font-family='"Liberation Serif", serif' >Q82</text>
<text x="489.7" y="97.9" font-size="8.6" fill="#333" text-anchor="middle" font-family='"Liberation Serif", serif' >S26</text>
<text x="502.5" y="93.6" font-size="8.6" fill="#333" text-anchor="middle" font-family='"Liberation Serif", serif' >S8</text>
<text x="508.3" y="123.7" font-size="8.6" fill="#333" text-anchor="middle" font-family='"Liberation Serif", serif' >N74</text>
<text x="636.7" y="57.7" font-size="8.6" fill="#333" text-anchor="middle" font-family='"Liberation Serif", serif' >I70</text>
<text x="641.0" y="84.5" font-size="8.6" fill="#333" text-anchor="middle" font-family='"Liberation Serif", serif' >C96</text>
<text x="646.8" y="95.9" font-size="8.6" fill="#333" text-anchor="middle" font-family='"Liberation Serif", serif' >C23</text>
<rect x="650" y="33" width="20" height="10.799999999999997" fill="#d8f0da" stroke="#c4e6c8" stroke-width="0.6"/>
<text x="660.0" y="41.4" font-size="8.8" fill="#333" text-anchor="middle" font-family='"Liberation Serif", serif' >PV2</text>
<rect x="474.8" y="174.9" width="205.6" height="111.2" fill="none" stroke="#333" stroke-width="0.8"/>
<line x1="474.8" y1="254.3" x2="680.4" y2="254.3" stroke="#4a4a4a" stroke-width="0.7"/>
<line x1="515.9" y1="174.9" x2="515.9" y2="286.1" stroke="#4a4a4a" stroke-width="0.7"/>
<line x1="471.8" y1="190.8" x2="474.8" y2="190.8" stroke="#333" stroke-width="0.8"/>
<text x="470.5" y="193.9" font-size="9" fill="#3a3a3a" text-anchor="end" font-family='"Liberation Serif", serif' >2</text>
<line x1="471.8" y1="222.5" x2="474.8" y2="222.5" stroke="#333" stroke-width="0.8"/>
<text x="470.5" y="225.6" font-size="9" fill="#3a3a3a" text-anchor="end" font-family='"Liberation Serif", serif' >1</text>
<line x1="471.8" y1="254.3" x2="474.8" y2="254.3" stroke="#333" stroke-width="0.8"/>
<text x="470.5" y="257.4" font-size="9" fill="#3a3a3a" text-anchor="end" font-family='"Liberation Serif", serif' >0</text>
<line x1="471.8" y1="286.1" x2="474.8" y2="286.1" stroke="#333" stroke-width="0.8"/>
<text x="470.5" y="289.2" font-size="9" fill="#3a3a3a" text-anchor="end" font-family='"Liberation Serif", serif' >−1</text>
<line x1="474.8" y1="286.1" x2="474.8" y2="289.1" stroke="#333" stroke-width="0.8"/>
<text x="474.8" y="297.7" font-size="9" fill="#3a3a3a" text-anchor="middle" font-family='"Liberation Serif", serif' >−20</text>
<line x1="515.9" y1="286.1" x2="515.9" y2="289.1" stroke="#333" stroke-width="0.8"/>
<text x="515.9" y="297.7" font-size="9" fill="#3a3a3a" text-anchor="middle" font-family='"Liberation Serif", serif' >0</text>
<line x1="557.0" y1="286.1" x2="557.0" y2="289.1" stroke="#333" stroke-width="0.8"/>
<text x="557.0" y="297.7" font-size="9" fill="#3a3a3a" text-anchor="middle" font-family='"Liberation Serif", serif' >20</text>
<line x1="598.1" y1="286.1" x2="598.1" y2="289.1" stroke="#333" stroke-width="0.8"/>
<text x="598.1" y="297.7" font-size="9" fill="#3a3a3a" text-anchor="middle" font-family='"Liberation Serif", serif' >40</text>
<line x1="639.3" y1="286.1" x2="639.3" y2="289.1" stroke="#333" stroke-width="0.8"/>
<text x="639.3" y="297.7" font-size="9" fill="#3a3a3a" text-anchor="middle" font-family='"Liberation Serif", serif' >60</text>
<line x1="680.4" y1="286.1" x2="680.4" y2="289.1" stroke="#333" stroke-width="0.8"/>
<text x="680.4" y="297.7" font-size="9" fill="#3a3a3a" text-anchor="middle" font-family='"Liberation Serif", serif' >80</text>
<text x="577.6" y="308.4" font-size="9.2" fill="#3a3a3a" text-anchor="middle" font-family='"Liberation Serif", serif' >Cartesian ddG (kcal/mol)</text>
<text transform="translate(454.6,230.5) rotate(-90)" font-size="9.1" fill="#3a3a3a" text-anchor="middle" font-family='"Liberation Serif", serif'>Flex ddG (kcal/mol)</text>
<circle cx="516.6" cy="184.1" r="2.3" fill="#7fd08c" fill-opacity="0.75"/>
<circle cx="510.9" cy="185.7" r="2.3" fill="#7fd08c" fill-opacity="0.75"/>
<circle cx="505.2" cy="191.2" r="2.3" fill="#7fd08c" fill-opacity="0.75"/>
<circle cx="530.7" cy="208" r="2.3" fill="#7fd08c" fill-opacity="0.75"/>
<circle cx="504.5" cy="212.1" r="2.3" fill="#7fd08c" fill-opacity="0.75"/>
<circle cx="512.3" cy="210.3" r="2.3" fill="#7fd08c" fill-opacity="0.75"/>
<circle cx="542.6" cy="213.2" r="2.3" fill="#7fd08c" fill-opacity="0.75"/>
<circle cx="547.6" cy="210.7" r="2.3" fill="#7fd08c" fill-opacity="0.75"/>
<circle cx="523.8" cy="223.8" r="2.3" fill="#7fd08c" fill-opacity="0.75"/>
<circle cx="512.8" cy="220.4" r="2.3" fill="#7fd08c" fill-opacity="0.75"/>
<circle cx="510" cy="226.8" r="2.3" fill="#7fd08c" fill-opacity="0.75"/>
<circle cx="511.4" cy="225" r="2.3" fill="#7fd08c" fill-opacity="0.75"/>
<circle cx="508.6" cy="230" r="2.3" fill="#7fd08c" fill-opacity="0.75"/>
<circle cx="511.9" cy="235" r="2.3" fill="#7fd08c" fill-opacity="0.75"/>
<circle cx="509.1" cy="233.2" r="2.3" fill="#7fd08c" fill-opacity="0.75"/>
<circle cx="534.8" cy="242.9" r="2.3" fill="#7fd08c" fill-opacity="0.75"/>
<circle cx="537.5" cy="252.3" r="2.3" fill="#7fd08c" fill-opacity="0.75"/>
<circle cx="537.1" cy="257.6" r="2.3" fill="#7fd08c" fill-opacity="0.75"/>
<circle cx="529.7" cy="254.8" r="2.3" fill="#7fd08c" fill-opacity="0.75"/>
<circle cx="519.2" cy="257.6" r="2.3" fill="#7fd08c" fill-opacity="0.75"/>
<circle cx="510.9" cy="236" r="2.3" fill="#7fd08c" fill-opacity="0.75"/>
<circle cx="509.1" cy="238.8" r="2.3" fill="#7fd08c" fill-opacity="0.75"/>
<circle cx="506.3" cy="241.5" r="2.3" fill="#7fd08c" fill-opacity="0.75"/>
<circle cx="512.8" cy="243.3" r="2.3" fill="#7fd08c" fill-opacity="0.75"/>
<circle cx="513.7" cy="248.9" r="2.3" fill="#7fd08c" fill-opacity="0.75"/>
<circle cx="504.5" cy="256.2" r="2.3" fill="#7fd08c" fill-opacity="0.75"/>
<circle cx="508.2" cy="258" r="2.3" fill="#7fd08c" fill-opacity="0.75"/>
<circle cx="511.9" cy="257.1" r="2.3" fill="#7fd08c" fill-opacity="0.75"/>
<circle cx="515.5" cy="256.2" r="2.3" fill="#7fd08c" fill-opacity="0.75"/>
<circle cx="502.7" cy="258" r="2.3" fill="#7fd08c" fill-opacity="0.75"/>
<circle cx="510" cy="246" r="2.3" fill="#7fd08c" fill-opacity="0.75"/>
<circle cx="507" cy="252" r="2.3" fill="#7fd08c" fill-opacity="0.75"/>
<circle cx="577" cy="206.5" r="2.3" fill="#7fd08c" fill-opacity="0.75"/>
<circle cx="586.2" cy="204.4" r="2.3" fill="#7fd08c" fill-opacity="0.75"/>
<circle cx="593.5" cy="210.4" r="2.3" fill="#7fd08c" fill-opacity="0.75"/>
<circle cx="580.9" cy="223.5" r="2.3" fill="#7fd08c" fill-opacity="0.75"/>
<circle cx="550.7" cy="223.5" r="2.3" fill="#7fd08c" fill-opacity="0.75"/>
<circle cx="609.2" cy="238.7" r="2.3" fill="#7fd08c" fill-opacity="0.75"/>
<circle cx="614.7" cy="244.2" r="2.3" fill="#7fd08c" fill-opacity="0.75"/>
<circle cx="587.7" cy="239.9" r="2.3" fill="#7fd08c" fill-opacity="0.75"/>
<circle cx="577.5" cy="243.5" r="2.3" fill="#7fd08c" fill-opacity="0.75"/>
<circle cx="584.5" cy="247.1" r="2.3" fill="#7fd08c" fill-opacity="0.75"/>
<circle cx="599.7" cy="253.9" r="2.3" fill="#7fd08c" fill-opacity="0.75"/>
<circle cx="611.8" cy="256.1" r="2.3" fill="#7fd08c" fill-opacity="0.75"/>
<circle cx="563.3" cy="253.2" r="2.3" fill="#7fd08c" fill-opacity="0.75"/>
<circle cx="565.2" cy="256.3" r="2.3" fill="#7fd08c" fill-opacity="0.75"/>
<circle cx="553.1" cy="256.3" r="2.3" fill="#7fd08c" fill-opacity="0.75"/>
<circle cx="554.3" cy="253.9" r="2.3" fill="#7fd08c" fill-opacity="0.75"/>
<circle cx="498" cy="255" r="2.3" fill="#7fd08c" fill-opacity="0.75"/>
<circle cx="501" cy="257" r="2.3" fill="#7fd08c" fill-opacity="0.75"/>
<circle cx="504" cy="259" r="2.3" fill="#7fd08c" fill-opacity="0.75"/>
<circle cx="507" cy="256" r="2.3" fill="#7fd08c" fill-opacity="0.75"/>
<circle cx="510" cy="259" r="2.3" fill="#7fd08c" fill-opacity="0.75"/>
<circle cx="513" cy="258" r="2.3" fill="#7fd08c" fill-opacity="0.75"/>
<circle cx="516" cy="259" r="2.3" fill="#7fd08c" fill-opacity="0.75"/>
<circle cx="519" cy="258" r="2.3" fill="#7fd08c" fill-opacity="0.75"/>
<circle cx="522" cy="256" r="2.3" fill="#7fd08c" fill-opacity="0.75"/>
<circle cx="500" cy="252" r="2.3" fill="#7fd08c" fill-opacity="0.75"/>
<circle cx="505" cy="250" r="2.3" fill="#7fd08c" fill-opacity="0.75"/>
<circle cx="511" cy="251" r="2.3" fill="#7fd08c" fill-opacity="0.75"/>
<circle cx="514" cy="250" r="2.3" fill="#7fd08c" fill-opacity="0.75"/>
<circle cx="506" cy="245" r="2.3" fill="#7fd08c" fill-opacity="0.75"/>
<circle cx="512" cy="240" r="2.3" fill="#7fd08c" fill-opacity="0.75"/>
<path d="M519.0999999999999,189.5L522.5,192.89999999999998M519.0999999999999,192.89999999999998L522.5,189.5" stroke="#2f8f45" stroke-width="1.6" stroke-opacity="0.9"/>
<path d="M527.5999999999999,193.20000000000002L531.0,196.6M527.5999999999999,196.6L531.0,193.20000000000002" stroke="#2f8f45" stroke-width="1.6" stroke-opacity="0.9"/>
<path d="M534.0,190.4L537.4000000000001,193.79999999999998M534.0,193.79999999999998L537.4000000000001,190.4" stroke="#2f8f45" stroke-width="1.6" stroke-opacity="0.9"/>
<path d="M513.0999999999999,196.20000000000002L516.5,199.6M513.0999999999999,199.6L516.5,196.20000000000002" stroke="#2f8f45" stroke-width="1.6" stroke-opacity="0.9"/>
<path d="M508.1,207.5L511.5,210.89999999999998M508.1,210.89999999999998L511.5,207.5" stroke="#2f8f45" stroke-width="1.6" stroke-opacity="0.9"/>
<path d="M523.0,214.4L526.4000000000001,217.79999999999998M523.0,217.79999999999998L526.4000000000001,214.4" stroke="#2f8f45" stroke-width="1.6" stroke-opacity="0.9"/>
<path d="M501.40000000000003,219.8L504.8,223.2M501.40000000000003,223.2L504.8,219.8" stroke="#2f8f45" stroke-width="1.6" stroke-opacity="0.9"/>
<path d="M507.6,218.5L511.0,221.89999999999998M507.6,221.89999999999998L511.0,218.5" stroke="#2f8f45" stroke-width="1.6" stroke-opacity="0.9"/>
<path d="M510.59999999999997,221.4L514.0,224.79999999999998M510.59999999999997,224.79999999999998L514.0,221.4" stroke="#2f8f45" stroke-width="1.6" stroke-opacity="0.9"/>
<path d="M499.6,228.3L503.0,231.7M499.6,231.7L503.0,228.3" stroke="#2f8f45" stroke-width="1.6" stroke-opacity="0.9"/>
<path d="M506.0,229.20000000000002L509.4,232.6M506.0,232.6L509.4,229.20000000000002" stroke="#2f8f45" stroke-width="1.6" stroke-opacity="0.9"/>
<path d="M497.8,232.0L501.2,235.39999999999998M497.8,235.39999999999998L501.2,232.0" stroke="#2f8f45" stroke-width="1.6" stroke-opacity="0.9"/>
<path d="M502.40000000000003,237.10000000000002L505.8,240.5M502.40000000000003,240.5L505.8,237.10000000000002" stroke="#2f8f45" stroke-width="1.6" stroke-opacity="0.9"/>
<path d="M514.3,236.60000000000002L517.7,240.0M514.3,240.0L517.7,236.60000000000002" stroke="#2f8f45" stroke-width="1.6" stroke-opacity="0.9"/>
<path d="M511.09999999999997,238.9L514.5,242.29999999999998M511.09999999999997,242.29999999999998L514.5,238.9" stroke="#2f8f45" stroke-width="1.6" stroke-opacity="0.9"/>
<path d="M499.1,242.10000000000002L502.5,245.5M499.1,245.5L502.5,242.10000000000002" stroke="#2f8f45" stroke-width="1.6" stroke-opacity="0.9"/>
<path d="M504.6,248.10000000000002L508.0,251.5M504.6,251.5L508.0,248.10000000000002" stroke="#2f8f45" stroke-width="1.6" stroke-opacity="0.9"/>
<path d="M518.9,249.0L522.3000000000001,252.39999999999998M518.9,252.39999999999998L522.3000000000001,249.0" stroke="#2f8f45" stroke-width="1.6" stroke-opacity="0.9"/>
<path d="M528.0,249.0L531.4000000000001,252.39999999999998M528.0,252.39999999999998L531.4000000000001,249.0" stroke="#2f8f45" stroke-width="1.6" stroke-opacity="0.9"/>
<path d="M531.3,250.8L534.7,254.2M531.3,254.2L534.7,250.8" stroke="#2f8f45" stroke-width="1.6" stroke-opacity="0.9"/>
<path d="M522.5,254.5L525.9000000000001,257.9M522.5,257.9L525.9000000000001,254.5" stroke="#2f8f45" stroke-width="1.6" stroke-opacity="0.9"/>
<path d="M533.0999999999999,252.70000000000002L536.5,256.1M533.0999999999999,256.1L536.5,252.70000000000002" stroke="#2f8f45" stroke-width="1.6" stroke-opacity="0.9"/>
<path d="M542.3,248.10000000000002L545.7,251.5M542.3,251.5L545.7,248.10000000000002" stroke="#2f8f45" stroke-width="1.6" stroke-opacity="0.9"/>
<path d="M545.0,248.10000000000002L548.4000000000001,251.5M545.0,251.5L548.4000000000001,248.10000000000002" stroke="#2f8f45" stroke-width="1.6" stroke-opacity="0.9"/>
<path d="M545.5,258.2L548.9000000000001,261.59999999999997M545.5,261.59999999999997L548.9000000000001,258.2" stroke="#2f8f45" stroke-width="1.6" stroke-opacity="0.9"/>
<path d="M492.7,253.60000000000002L496.09999999999997,257.0M492.7,257.0L496.09999999999997,253.60000000000002" stroke="#2f8f45" stroke-width="1.6" stroke-opacity="0.9"/>
<path d="M506.5,253.60000000000002L509.9,257.0M506.5,257.0L509.9,253.60000000000002" stroke="#2f8f45" stroke-width="1.6" stroke-opacity="0.9"/>
<path d="M512.0,251.70000000000002L515.4000000000001,255.1M512.0,255.1L515.4000000000001,251.70000000000002" stroke="#2f8f45" stroke-width="1.6" stroke-opacity="0.9"/>
<path d="M509.2,254.5L512.6,257.9M509.2,257.9L512.6,254.5" stroke="#2f8f45" stroke-width="1.6" stroke-opacity="0.9"/>
<path d="M553.0999999999999,219.3L556.5,222.7M553.0999999999999,222.7L556.5,219.3" stroke="#2f8f45" stroke-width="1.6" stroke-opacity="0.9"/>
<path d="M555.5,253.20000000000002L558.9000000000001,256.6M555.5,256.6L558.9000000000001,253.20000000000002" stroke="#2f8f45" stroke-width="1.6" stroke-opacity="0.9"/>
<path d="M494.3,254.3L497.7,257.7M494.3,257.7L497.7,254.3" stroke="#2f8f45" stroke-width="1.6" stroke-opacity="0.9"/>
<path d="M500.3,252.8L503.7,256.2M500.3,256.2L503.7,252.8" stroke="#2f8f45" stroke-width="1.6" stroke-opacity="0.9"/>
<path d="M504.3,255.3L507.7,258.7M504.3,258.7L507.7,255.3" stroke="#2f8f45" stroke-width="1.6" stroke-opacity="0.9"/>
<path d="M509.3,256.3L512.7,259.7M509.3,259.7L512.7,256.3" stroke="#2f8f45" stroke-width="1.6" stroke-opacity="0.9"/>
<path d="M515.3,254.3L518.7,257.7M515.3,257.7L518.7,254.3" stroke="#2f8f45" stroke-width="1.6" stroke-opacity="0.9"/>
<path d="M518.3,251.8L521.7,255.2M518.3,255.2L521.7,251.8" stroke="#2f8f45" stroke-width="1.6" stroke-opacity="0.9"/>
<path d="M502.3,244.3L505.7,247.7M502.3,247.7L505.7,244.3" stroke="#2f8f45" stroke-width="1.6" stroke-opacity="0.9"/>
<path d="M506.3,241.3L509.7,244.7M506.3,244.7L509.7,241.3" stroke="#2f8f45" stroke-width="1.6" stroke-opacity="0.9"/>
<path d="M509.3,244.3L512.7,247.7M509.3,247.7L512.7,244.3" stroke="#2f8f45" stroke-width="1.6" stroke-opacity="0.9"/>
<path d="M497.3,249.3L500.7,252.7M497.3,252.7L500.7,249.3" stroke="#2f8f45" stroke-width="1.6" stroke-opacity="0.9"/>
<circle cx="501.3" cy="208.7" r="2.25" fill="#e455b3"/>
<circle cx="496.7" cy="234.9" r="2.25" fill="#e455b3"/>
<circle cx="496.4" cy="252.1" r="2.25" fill="#e455b3"/>
<circle cx="501" cy="252.3" r="2.25" fill="#e455b3"/>
<circle cx="497.2" cy="267.2" r="2.25" fill="#e455b3"/>
<circle cx="628.7" cy="177.1" r="2.35" fill="#ee9a2a"/>
<circle cx="641.8" cy="254.4" r="2.35" fill="#ee9a2a"/>
<circle cx="666.6" cy="254.9" r="2.35" fill="#ee9a2a"/>
<text x="500.6" y="205.3" font-size="8.6" fill="#333" text-anchor="middle" font-family='"Liberation Serif", serif' >S85</text>
<text x="497.0" y="231.8" font-size="8.6" fill="#333" text-anchor="middle" font-family='"Liberation Serif", serif' >K87</text>
<text x="493.3" y="249.2" font-size="8.6" fill="#333" text-anchor="middle" font-family='"Liberation Serif", serif' >N77</text>
<text x="507.8" y="245.1" font-size="8.6" fill="#333" text-anchor="middle" font-family='"Liberation Serif", serif' >S26</text>
<text x="509.0" y="252.9" font-size="8.6" fill="#333" text-anchor="middle" font-family='"Liberation Serif", serif' >S8</text>
<text x="496.2" y="264.0" font-size="8.6" fill="#333" text-anchor="middle" font-family='"Liberation Serif", serif' >S71</text>
<text x="627.5" y="188.5" font-size="8.6" fill="#333" text-anchor="middle" font-family='"Liberation Serif", serif' >I70</text>
<text x="641.8" y="251.3" font-size="8.6" fill="#333" text-anchor="middle" font-family='"Liberation Serif", serif' >C23</text>
<text x="664.2" y="251.8" font-size="8.6" fill="#333" text-anchor="middle" font-family='"Liberation Serif", serif' >G119</text>
<rect x="649.3" y="185" width="21.0" height="11.400000000000006" fill="#d8f0da" stroke="#c4e6c8" stroke-width="0.6"/>
<text x="659.8" y="193.7" font-size="8.8" fill="#333" text-anchor="middle" font-family='"Liberation Serif", serif' >PV3</text>
<text x="437.0" y="392.5" font-size="12.7" fill="#111" text-anchor="middle" font-family='"Liberation Sans", sans-serif' >PV2</text>
<path d="M548.0,362.0 C548.2,361.2 547.7,357.8 549.0,357.0 C550.3,356.2 554.2,356.0 556.0,357.0 C557.8,358.0 559.7,360.5 560.0,363.0 C560.3,365.5 558.7,369.2 558.0,372.0 C557.3,374.8 556.3,378.7 556.0,380.0" fill="none" stroke="#f4dedb" stroke-width="1.6" stroke-linecap="round" stroke-linejoin="round" stroke-opacity="1"/>
<path d="M655.0,377.0 C656.2,376.1 660.6,372.0 662.0,371.6 C663.4,371.2 664.2,372.8 663.5,374.4 C662.8,376.0 660.1,379.7 658.0,381.3 C655.9,382.9 652.6,382.8 651.0,384.0 C649.4,385.2 648.1,386.9 648.3,388.3 C648.5,389.7 650.1,390.6 652.4,392.4 C654.7,394.2 659.9,396.7 662.0,399.3 C664.1,401.9 665.3,404.9 665.0,408.0 C664.7,411.1 661.8,415.2 660.0,418.0 C658.2,420.8 656.0,423.0 654.0,425.0 C652.0,427.0 649.0,429.2 648.0,430.0" fill="none" stroke="#f4dedb" stroke-width="1.8" stroke-linecap="round" stroke-linejoin="round" stroke-opacity="1"/>
<path d="M633.0,390.0 C634.2,391.0 638.0,393.7 640.0,396.0 C642.0,398.3 644.5,401.3 645.0,404.0 C645.5,406.7 643.3,410.7 643.0,412.0" fill="none" stroke="#f4dedb" stroke-width="1.6" stroke-linecap="round" stroke-linejoin="round" stroke-opacity="1"/>
<polygon points="580.0,398.0 616.0,364.0 621.0,358.0 629.0,363.0 589.0,403.0" fill="#f4e4e1" stroke="#efd6d1" stroke-width="0.5" stroke-linejoin="round" fill-opacity="1"/>
<polygon points="606.0,418.0 634.0,382.0 642.0,386.0 615.0,421.0" fill="#f4e4e1" stroke="#efd6d1" stroke-width="0.5" stroke-linejoin="round" fill-opacity="1"/>
<polygon points="596.0,355.0 627.6,344.5 626.0,353.0 603.0,360.0" fill="#f4e4e1" stroke="#efd6d1" stroke-width="0.5" stroke-linejoin="round" fill-opacity="1"/>
<polygon points="600.0,395.0 628.0,372.0 633.0,377.0 606.0,399.0" fill="#f4e4e1" stroke="#efd6d1" stroke-width="0.5" stroke-linejoin="round" fill-opacity="1"/>
<path d="M485.0,345.0 C484.5,346.3 482.7,350.5 482.0,353.0 C481.3,355.5 480.0,357.5 481.0,360.0 C482.0,362.5 486.2,365.4 488.0,368.0 C489.8,370.6 491.8,373.1 492.0,375.5 C492.2,377.9 490.5,380.5 489.0,382.6 C487.5,384.7 484.4,385.9 483.0,388.0 C481.6,390.1 480.9,392.7 480.7,395.0 C480.4,397.3 481.9,400.0 481.5,402.0 C481.1,404.0 480.0,405.7 478.0,407.0 C476.0,408.3 472.1,409.8 469.3,409.7 C466.5,409.6 462.6,406.4 461.0,406.5 C459.4,406.6 459.8,408.4 460.0,410.0 C460.2,411.6 460.8,414.2 462.0,416.0 C463.2,417.8 465.8,419.8 467.5,421.0 C469.2,422.2 470.9,423.2 472.0,423.0 C473.1,422.8 473.2,420.2 474.0,420.0 C474.8,419.8 476.7,421.2 476.5,422.0 C476.3,422.8 473.2,423.7 473.0,425.0 C472.8,426.3 473.4,429.5 475.4,430.0 C477.4,430.5 481.7,428.5 485.0,428.0 C488.3,427.5 492.0,426.9 495.0,427.0 C498.0,427.1 501.8,428.4 503.2,428.7" fill="none" stroke="#cdcdcd" stroke-width="2.2" stroke-linecap="round" stroke-linejoin="round" stroke-opacity="1"/>
<path d="M514.8,390.0 C513.8,389.8 510.5,387.9 508.8,388.6 C507.1,389.3 505.4,392.0 504.4,394.4 C503.4,396.8 503.4,400.6 503.0,403.2 C502.6,405.8 501.5,408.2 502.2,409.7 C502.9,411.2 506.2,411.6 507.0,412.0" fill="none" stroke="#cdcdcd" stroke-width="2.2" stroke-linecap="round" stroke-linejoin="round" stroke-opacity="1"/>
<path d="M526.0,376.5 C525.6,377.1 523.8,378.6 523.4,380.0 C523.0,381.4 523.4,383.5 523.5,385.0 C523.6,386.5 523.9,388.3 524.0,389.0" fill="none" stroke="#cdcdcd" stroke-width="2.2" stroke-linecap="round" stroke-linejoin="round" stroke-opacity="1"/>
<path d="M527.7,395.0 C527.7,396.0 528.8,399.5 527.5,401.0 C526.2,402.5 522.1,402.8 520.0,404.0 C517.9,405.2 515.9,406.8 515.0,408.0 C514.1,409.2 514.5,410.8 514.4,411.3" fill="none" stroke="#cdcdcd" stroke-width="2.2" stroke-linecap="round" stroke-linejoin="round" stroke-opacity="1"/>
<path d="M523.0,382.0 C523.5,381.3 524.5,379.1 526.0,378.0 C527.5,376.9 529.7,376.0 532.0,375.5 C534.3,375.0 537.3,374.9 540.0,375.0 C542.7,375.1 546.7,375.8 548.0,376.0" fill="none" stroke="#cdcdcd" stroke-width="2.2" stroke-linecap="round" stroke-linejoin="round" stroke-opacity="1"/>
<path d="M623.3,357.7 C624.7,357.6 628.6,357.2 631.6,357.0 C634.6,356.8 638.8,357.2 641.3,356.4 C643.8,355.6 646.0,352.9 646.9,352.2" fill="none" stroke="#cdcdcd" stroke-width="2.2" stroke-linecap="round" stroke-linejoin="round" stroke-opacity="1"/>
<path d="M633.0,363.3 C633.9,364.0 637.0,365.5 638.5,367.4 C640.0,369.2 641.5,372.3 642.0,374.4 C642.5,376.5 642.3,378.7 641.3,380.0 C640.3,381.3 638.8,381.6 635.8,382.0 C632.8,382.4 625.4,382.6 623.3,382.7" fill="none" stroke="#cdcdcd" stroke-width="2.2" stroke-linecap="round" stroke-linejoin="round" stroke-opacity="1"/>
<path d="M530.8,421.6 C531.3,420.8 532.6,417.2 533.8,416.5 C535.0,415.8 537.0,416.0 537.9,417.5 C538.8,419.0 538.8,424.3 539.0,425.7" fill="none" stroke="#cdcdcd" stroke-width="2.2" stroke-linecap="round" stroke-linejoin="round" stroke-opacity="1"/>
<path d="M562.4,439.0 C561.7,439.8 559.2,442.3 558.4,444.0 C557.5,445.7 557.0,448.0 557.3,449.2 C557.6,450.4 558.5,451.0 560.4,451.2 C562.3,451.4 566.5,451.4 568.6,450.2 C570.7,449.0 571.4,445.5 572.7,444.0 C574.1,442.5 576.0,441.5 576.7,441.0" fill="none" stroke="#cdcdcd" stroke-width="2.2" stroke-linecap="round" stroke-linejoin="round" stroke-opacity="1"/>
<path d="M585.0,435.9 C586.3,436.6 590.3,438.3 593.0,440.0 C595.7,441.7 598.9,444.9 601.3,446.1 C603.7,447.3 605.4,447.5 607.4,447.1 C609.4,446.8 612.5,444.5 613.5,444.0" fill="none" stroke="#cdcdcd" stroke-width="2.2" stroke-linecap="round" stroke-linejoin="round" stroke-opacity="1"/>
<path d="M566.5,417.5 C567.5,417.1 570.7,415.2 572.7,415.4 C574.8,415.6 577.8,418.0 578.8,418.5" fill="none" stroke="#cdcdcd" stroke-width="2.2" stroke-linecap="round" stroke-linejoin="round" stroke-opacity="1"/>
<path d="M631.0,424.0 C632.5,424.2 637.7,423.7 640.0,425.0 C642.3,426.3 644.0,428.6 645.0,432.0 C646.0,435.4 646.6,441.8 645.8,445.6 C645.0,449.4 640.6,452.0 640.3,454.7 C640.0,457.4 642.5,459.6 644.0,462.0 C645.5,464.4 648.5,468.1 649.4,469.3" fill="none" stroke="#cdcdcd" stroke-width="2.2" stroke-linecap="round" stroke-linejoin="round" stroke-opacity="1"/>
<polygon points="576.7,423.6 593.0,403.2 600.0,398.0 604.0,402.0 586.0,425.0" fill="#c6c6c6" stroke="#b9b9b9" stroke-width="0.5" stroke-linejoin="round" fill-opacity="1"/>
<polygon points="585.0,413.4 615.6,395.0 620.0,399.0 590.0,418.0" fill="#c6c6c6" stroke="#b9b9b9" stroke-width="0.5" stroke-linejoin="round" fill-opacity="1"/>
<polygon points="577.0,414.0 587.0,392.0 593.0,387.5 598.0,389.0 588.0,418.0" fill="#c4c4c4" stroke="#b9b9b9" stroke-width="0.5" stroke-linejoin="round" fill-opacity="1"/>
<polygon points="514.3,389.0 600.0,400.5 640.0,407.4 642.0,411.5 640.0,415.6 600.0,407.0 514.3,391.1" fill="#d0d0d0" stroke="#b9b9b9" stroke-width="0.5" stroke-linejoin="round" fill-opacity="1"/>
<polygon points="520.4,376.5 526.6,374.8 600.0,378.0 623.2,379.4 623.2,385.8 600.0,385.5 520.4,379.5" fill="#d2d2d2" stroke="#b9b9b9" stroke-width="0.5" stroke-linejoin="round" fill-opacity="1"/>
<polygon points="561.9,375.8 575.0,369.0 598.4,356.8 621.8,348.8 624.0,352.0 621.8,357.5 601.3,369.2 569.2,378.0" fill="#c2c2c2" stroke="#b9b9b9" stroke-width="0.5" stroke-linejoin="round" fill-opacity="1"/>
<polygon points="503.0,410.0 519.5,412.0 521.0,414.0 550.2,431.5 550.2,436.0 522.0,423.0 519.0,425.5" fill="#d3d3d3" stroke="#b9b9b9" stroke-width="0.5" stroke-linejoin="round" fill-opacity="1"/>
<polygon points="505.2,430.8 518.0,427.0 518.0,429.0 576.7,433.5 576.7,439.0 518.0,435.0 518.0,437.5" fill="#d5d5d5" stroke="#b9b9b9" stroke-width="0.5" stroke-linejoin="round" fill-opacity="1"/>
<polygon points="556.3,424.0 580.8,421.6 631.0,420.5 631.0,427.7 580.8,425.7 556.3,428.0" fill="#cbcbcb" stroke="#b9b9b9" stroke-width="0.5" stroke-linejoin="round" fill-opacity="1"/>
<polyline points="517.6,389.6 516.5,380.0 516.0,372.3" fill="none" stroke="#cfe03e" stroke-width="2.4" stroke-linecap="round" stroke-linejoin="round"/>
<polyline points="512.3,378.9 520.7,378.9" fill="none" stroke="#cfe03e" stroke-width="1.9" stroke-linecap="round" stroke-linejoin="round"/>
<polyline points="514.0,383.4 523.3,383.4" fill="none" stroke="#cfe03e" stroke-width="1.8" stroke-linecap="round" stroke-linejoin="round"/>
<polygon points="516.5,360.6 521.4,363.6 521.4,369.4 516.5,372.4 511.6,369.4 511.6,363.6" fill="none" stroke="#cfe03e" stroke-width="2.2" stroke-linejoin="round"/>
<polyline points="516.5,360.6 517.1,355.5 511.8,351.5" fill="none" stroke="#cfe03e" stroke-width="2.2" stroke-linecap="round" stroke-linejoin="round"/>
<polyline points="517.1,355.5 522.4,351.5 522.4,348.0" fill="none" stroke="#cfe03e" stroke-width="2.0" stroke-linecap="round" stroke-linejoin="round"/>
<polyline points="522.4,351.5 525.5,354.6" fill="none" stroke="#cfe03e" stroke-width="1.6" stroke-linecap="round" stroke-linejoin="round"/>
<polyline points="511.6,363.6 508.7,363.9" fill="none" stroke="#cfe03e" stroke-width="1.4" stroke-linecap="round" stroke-linejoin="round"/>
<polyline points="521.4,363.6 524.2,360.8" fill="none" stroke="#cfe03e" stroke-width="1.4" stroke-linecap="round" stroke-linejoin="round"/>
<polyline points="511.6,369.4 509.2,374.0" fill="none" stroke="#cfe03e" stroke-width="1.4" stroke-linecap="round" stroke-linejoin="round"/>
<polyline points="521.4,369.4 525.0,370.0" fill="none" stroke="#cfe03e" stroke-width="1.4" stroke-linecap="round" stroke-linejoin="round"/>
<polyline points="560.4,377.2 565.0,378.0 571.4,378.2" fill="none" stroke="#2f3fa6" stroke-width="2.4" stroke-linecap="round" stroke-linejoin="round"/>
<polyline points="563.4,378.0 564.8,368.5" fill="none" stroke="#2f3fa6" stroke-width="2.3" stroke-linecap="round" stroke-linejoin="round"/>
<polyline points="564.8,368.5 575.0,366.3 583.8,361.9 586.7,354.6" fill="none" stroke="#2f3fa6" stroke-width="2.6" stroke-linecap="round" stroke-linejoin="round"/>
<polyline points="583.8,354.6 588.2,356.0" fill="none" stroke="#2f3fa6" stroke-width="1.6" stroke-linecap="round" stroke-linejoin="round"/>
<polyline points="569.0,367.0 572.0,371.0" fill="none" stroke="#2f3fa6" stroke-width="1.5" stroke-linecap="round" stroke-linejoin="round"/>
<polyline points="576.5,367.7 588.0,363.0 601.3,359.0" fill="none" stroke="#4cc24c" stroke-width="2.4" stroke-linecap="round" stroke-linejoin="round"/>
<polygon points="599.5,361.5 597.0,365.8 592.0,365.8 589.5,361.5 592.0,357.2 597.0,357.2" fill="none" stroke="#4cc24c" stroke-width="1.9" stroke-linejoin="round"/>
<polyline points="592.6,353.1 596.0,356.0" fill="none" stroke="#4cc24c" stroke-width="1.6" stroke-linecap="round" stroke-linejoin="round"/>
<polyline points="598.4,353.9 596.0,356.0" fill="none" stroke="#4cc24c" stroke-width="1.5" stroke-linecap="round" stroke-linejoin="round"/>
<polyline points="599.9,369.2 598.0,365.0" fill="none" stroke="#4cc24c" stroke-width="1.8" stroke-linecap="round" stroke-linejoin="round"/>
<polyline points="588.0,369.0 590.0,365.0" fill="none" stroke="#4cc24c" stroke-width="1.5" stroke-linecap="round" stroke-linejoin="round"/>
<polyline points="623.3,346.6 631.6,347.3 637.2,352.2 645.5,357.7" fill="none" stroke="#e0752a" stroke-width="3.2" stroke-linecap="round" stroke-linejoin="round"/>
<polyline points="645.5,357.7 644.8,363.3 646.9,368.8" fill="none" stroke="#e0752a" stroke-width="2.6" stroke-linecap="round" stroke-linejoin="round"/>
<polyline points="626.0,343.0 629.0,347.0" fill="none" stroke="#e0752a" stroke-width="1.6" stroke-linecap="round" stroke-linejoin="round"/>
<polyline points="640.0,362.0 636.0,365.0" fill="none" stroke="#e0752a" stroke-width="1.6" stroke-linecap="round" stroke-linejoin="round"/>
<polyline points="646.0,358.0 649.0,356.0" fill="none" stroke="#e0752a" stroke-width="1.4" stroke-linecap="round" stroke-linejoin="round"/>
<polyline points="634.0,362.0 639.0,362.5" fill="none" stroke="#2f3fa6" stroke-width="1.8" stroke-linecap="round" stroke-linejoin="round"/>
<polyline points="646.0,350.0 647.0,355.0" fill="none" stroke="#aaa" stroke-width="1.4" stroke-linecap="round" stroke-linejoin="round"/>
<polygon points="603.3,420.9 609.3,423.8 609.3,429.6 603.3,432.5 597.3,429.6 597.3,423.8" fill="none" stroke="#c03cb0" stroke-width="2.0" stroke-linejoin="round"/>
<polyline points="597.3,423.8 591.0,419.5 585.0,421.6 582.9,416.5" fill="none" stroke="#c03cb0" stroke-width="2.2" stroke-linecap="round" stroke-linejoin="round"/>
<polyline points="588.0,420.0 590.0,424.0" fill="none" stroke="#c03cb0" stroke-width="1.5" stroke-linecap="round" stroke-linejoin="round"/>
<polyline points="609.3,429.6 613.5,434.9 617.6,434.9" fill="none" stroke="#c03cb0" stroke-width="2.1" stroke-linecap="round" stroke-linejoin="round"/>
<polyline points="613.5,434.9 611.5,444.0" fill="none" stroke="#c03cb0" stroke-width="2.0" stroke-linecap="round" stroke-linejoin="round"/>
<polyline points="608.0,442.0 614.0,443.0" fill="none" stroke="#c03cb0" stroke-width="1.5" stroke-linecap="round" stroke-linejoin="round"/>
<polyline points="603.3,420.9 603.0,418.0" fill="none" stroke="#c03cb0" stroke-width="1.3" stroke-linecap="round" stroke-linejoin="round"/>
<polyline points="609.3,423.8 612.0,421.0" fill="none" stroke="#c03cb0" stroke-width="1.3" stroke-linecap="round" stroke-linejoin="round"/>
<polyline points="597.3,429.6 595.0,432.0" fill="none" stroke="#c03cb0" stroke-width="1.3" stroke-linecap="round" stroke-linejoin="round"/>
<polyline points="603.3,432.5 603.0,436.0" fill="none" stroke="#c03cb0" stroke-width="1.3" stroke-linecap="round" stroke-linejoin="round"/>
<polyline points="647.6,427.4 651.2,431.0 654.0,435.6 656.7,443.8 662.2,452.9 667.7,460.2" fill="none" stroke="#5fd0d0" stroke-width="3.4" stroke-linecap="round" stroke-linejoin="round"/>
<polyline points="648.6,428.4 652.0,432.0 655.0,437.0 657.5,444.5 663.0,453.5 667.5,459.5" fill="none" stroke="#3aa8a8" stroke-width="1.0" stroke-linecap="round" stroke-linejoin="round"/>
<polyline points="645.8,425.5 651.0,428.0 656.7,428.3" fill="none" stroke="#5fd0d0" stroke-width="2.0" stroke-linecap="round" stroke-linejoin="round"/>
<polyline points="651.2,431.0 648.0,436.0" fill="none" stroke="#5fd0d0" stroke-width="1.6" stroke-linecap="round" stroke-linejoin="round"/>
<polyline points="664.0,462.0 667.7,460.2 671.3,459.3" fill="none" stroke="#5fd0d0" stroke-width="2.0" stroke-linecap="round" stroke-linejoin="round"/>
<polyline points="667.7,460.2 670.0,465.0" fill="none" stroke="#5fd0d0" stroke-width="1.6" stroke-linecap="round" stroke-linejoin="round"/>
<text x="517.2" y="344.0" font-size="8.45" fill="#c3cf3c" text-anchor="middle" font-family='"Liberation Sans", sans-serif' >S85pAcF</text>
<text x="587.3" y="344.0" font-size="8.45" fill="#45b845" text-anchor="middle" font-family='"Liberation Sans", sans-serif' >S71pAcF</text>
<text x="631.7" y="338.0" font-size="8.45" fill="#de7a2e" text-anchor="middle" font-family='"Liberation Sans", sans-serif' >N74pAcF</text>
<text x="652.0" y="347.0" font-size="8.45" fill="#f2b5ac" text-anchor="start" font-family='"Liberation Sans", sans-serif' >CDR</text>
<text x="652.0" y="357.5" font-size="8.45" fill="#f2b5ac" text-anchor="start" font-family='"Liberation Sans", sans-serif' >Region</text>
<text x="562.8" y="391.8" font-size="8.45" fill="#3748a4" text-anchor="middle" font-family='"Liberation Sans", sans-serif' >Q82pAcF</text>
<text x="571.6" y="434.8" font-size="8.45" fill="#c23fb0" text-anchor="middle" font-family='"Liberation Sans", sans-serif' >S8pAcF</text>
<text x="633.9" y="452.2" font-size="8.45" fill="#5cd0d3" text-anchor="middle" font-family='"Liberation Sans", sans-serif' >S26pAcF</text>
<text x="438.7" y="531.0" font-size="12.7" fill="#111" text-anchor="middle" font-family='"Liberation Sans", sans-serif' >PV3</text>
<path d="M569.2,597.0 C568.9,598.2 566.3,602.3 567.3,604.5 C568.2,606.7 571.7,608.9 574.9,610.2 C578.1,611.5 581.9,612.7 586.3,612.1 C590.7,611.5 597.9,608.8 601.5,606.4 C605.1,604.0 606.9,599.4 608.0,598.0" fill="none" stroke="#f4dedb" stroke-width="1.7" stroke-linecap="round" stroke-linejoin="round" stroke-opacity="1"/>
<path d="M614.0,503.0 C615.3,502.3 619.3,498.7 622.0,499.0 C624.7,499.3 629.0,502.8 630.0,505.0 C631.0,507.2 628.3,510.8 628.0,512.0" fill="none" stroke="#f4dedb" stroke-width="1.6" stroke-linecap="round" stroke-linejoin="round" stroke-opacity="1"/>
<path d="M642.0,546.0 C643.0,546.7 646.7,548.2 648.0,550.0 C649.3,551.8 650.5,555.0 650.0,557.0 C649.5,559.0 645.8,561.2 645.0,562.0" fill="none" stroke="#f4dedb" stroke-width="1.5" stroke-linecap="round" stroke-linejoin="round" stroke-opacity="1"/>
<path d="M538.2,518.5 C537.7,517.4 535.0,513.6 535.0,512.1 C535.0,510.6 537.1,509.7 538.2,509.7 C539.3,509.7 540.9,510.4 541.4,512.1 C541.9,513.8 541.1,518.7 541.0,520.0" fill="none" stroke="#f4dedb" stroke-width="1.6" stroke-linecap="round" stroke-linejoin="round" stroke-opacity="1"/>
<polygon points="560.0,528.0 590.0,507.0 596.0,511.0 568.0,533.0" fill="#f4e4e1" stroke="#f1dcd8" stroke-width="0.5" stroke-linejoin="round" fill-opacity="1"/>
<polygon points="552.0,560.0 578.0,540.0 584.0,544.0 560.0,565.0" fill="#f4e4e1" stroke="#f1dcd8" stroke-width="0.5" stroke-linejoin="round" fill-opacity="1"/>
<path d="M509.7,558.8 C508.4,558.5 504.1,558.6 502.0,557.0 C499.9,555.4 498.2,552.5 497.4,549.3 C496.6,546.1 497.0,540.9 497.4,538.0 C497.8,535.1 498.6,533.4 500.0,532.0 C501.4,530.6 503.8,529.1 506.0,529.5 C508.2,529.9 512.2,533.4 513.5,534.2" fill="none" stroke="#cdcdcd" stroke-width="2.2" stroke-linecap="round" stroke-linejoin="round" stroke-opacity="1"/>
<path d="M501.2,576.9 C498.8,576.7 490.0,577.0 487.0,575.9 C484.0,574.8 484.0,572.2 483.0,570.0 C482.0,567.8 481.9,564.6 481.0,562.6 C480.1,560.6 479.2,558.8 477.4,557.9 C475.6,557.0 472.5,556.9 470.0,557.0 C467.5,557.1 464.2,557.5 462.3,558.8 C460.4,560.0 460.1,562.9 458.5,564.5 C456.9,566.1 455.7,567.5 452.8,568.3 C449.9,569.1 444.2,568.8 441.4,569.3 C438.5,569.8 436.3,570.2 435.7,571.2 C435.1,572.2 435.9,574.2 437.6,575.0 C439.3,575.8 443.1,575.9 446.0,576.0 C448.9,576.1 451.0,575.8 454.7,575.9 C458.4,576.0 463.8,576.1 468.0,576.5 C472.2,576.9 474.8,577.8 480.0,578.0 C485.2,578.2 495.8,578.0 499.0,578.0" fill="none" stroke="#cdcdcd" stroke-width="2.2" stroke-linecap="round" stroke-linejoin="round" stroke-opacity="1"/>
<path d="M516.0,523.0 C517.0,522.9 519.8,522.9 522.1,522.6 C524.5,522.3 527.4,521.0 530.1,521.0 C532.8,521.0 535.5,522.6 538.2,522.6 C540.9,522.6 543.0,521.7 546.2,521.0 C549.4,520.3 554.2,519.6 557.4,518.5 C560.6,517.4 564.1,515.2 565.5,514.5" fill="none" stroke="#cdcdcd" stroke-width="2.2" stroke-linecap="round" stroke-linejoin="round" stroke-opacity="1"/>
<path d="M514.9,533.8 C516.1,533.4 519.8,531.9 522.1,531.4 C524.4,530.9 526.1,530.3 528.5,530.6 C530.9,530.9 534.2,532.3 536.6,533.0 C539.0,533.7 541.9,534.3 543.0,534.6" fill="none" stroke="#cdcdcd" stroke-width="2.2" stroke-linecap="round" stroke-linejoin="round" stroke-opacity="1"/>
<path d="M612.0,514.0 C613.9,514.0 620.6,513.7 623.5,514.0 C626.4,514.3 627.3,515.6 629.2,515.9 C631.1,516.2 632.0,515.3 634.9,515.9 C637.8,516.5 643.4,519.4 646.3,519.7 C649.1,520.0 651.7,516.2 652.0,517.8 C652.3,519.4 650.2,526.3 648.2,529.2 C646.2,532.1 641.4,534.0 640.0,535.0" fill="none" stroke="#cdcdcd" stroke-width="2.2" stroke-linecap="round" stroke-linejoin="round" stroke-opacity="1"/>
<path d="M552.6,587.8 C551.7,588.4 549.3,590.1 547.3,591.3 C545.2,592.5 542.3,593.3 540.3,594.8 C538.2,596.2 536.2,598.0 535.0,600.0 C533.8,602.0 533.5,604.8 533.3,607.0 C533.1,609.2 532.9,612.2 534.0,613.0 C535.1,613.8 537.7,613.5 540.0,612.0 C542.3,610.5 545.9,607.7 548.0,604.0 C550.1,600.3 551.8,592.3 552.6,590.0" fill="none" stroke="#cdcdcd" stroke-width="2.2" stroke-linecap="round" stroke-linejoin="round" stroke-opacity="1"/>
<path d="M552.6,588.0 C553.5,590.0 555.5,597.7 557.8,600.0 C560.1,602.3 564.0,602.4 566.6,601.8 C569.2,601.2 571.9,598.4 573.6,596.6 C575.3,594.9 576.4,592.2 577.0,591.3" fill="none" stroke="#cdcdcd" stroke-width="2.2" stroke-linecap="round" stroke-linejoin="round" stroke-opacity="1"/>
<path d="M570.0,593.0 C572.3,592.9 579.9,591.6 584.0,592.2 C588.1,592.8 591.7,594.7 594.6,596.6 C597.5,598.5 599.9,601.9 601.6,603.6 C603.3,605.3 604.4,606.4 605.0,607.0" fill="none" stroke="#cdcdcd" stroke-width="2.2" stroke-linecap="round" stroke-linejoin="round" stroke-opacity="1"/>
<path d="M637.0,595.3 C638.2,595.6 640.8,596.4 644.0,597.0 C647.2,597.6 652.9,598.6 656.4,598.8 C659.9,599.0 662.8,598.3 665.1,598.0 C667.4,597.7 669.5,597.2 670.4,597.0" fill="none" stroke="#cdcdcd" stroke-width="2.2" stroke-linecap="round" stroke-linejoin="round" stroke-opacity="1"/>
<path d="M540.0,519.7 C541.9,520.0 548.2,521.8 551.4,521.6 C554.6,521.4 556.6,520.0 559.0,518.7 C561.4,517.4 564.8,514.8 566.0,514.0" fill="none" stroke="#cdcdcd" stroke-width="2.2" stroke-linecap="round" stroke-linejoin="round" stroke-opacity="1"/>
<path d="M517.3,536.2 C517.0,537.5 515.6,541.6 515.7,544.2 C515.8,546.8 516.5,550.0 518.0,552.0 C519.5,554.0 523.8,555.3 525.0,556.0" fill="none" stroke="#cdcdcd" stroke-width="2.2" stroke-linecap="round" stroke-linejoin="round" stroke-opacity="1"/>
<polygon points="547.0,584.0 566.0,543.0 572.0,537.0 584.0,536.0 561.0,584.0" fill="#c4c4c4" stroke="#b9b9b9" stroke-width="0.5" stroke-linejoin="round" fill-opacity="1"/>
<polygon points="557.0,578.0 590.0,546.0 596.0,545.0 605.0,558.0 566.0,585.0" fill="#c9c9c9" stroke="#b9b9b9" stroke-width="0.5" stroke-linejoin="round" fill-opacity="1"/>
<polygon points="562.0,553.0 578.0,543.0 588.0,545.0 570.0,559.0" fill="#c0c0c0" stroke="#b9b9b9" stroke-width="0.5" stroke-linejoin="round" fill-opacity="1"/>
<polygon points="565.5,510.5 602.0,510.0 603.0,506.5 616.0,515.5 603.0,524.5 602.0,521.5 565.5,521.0" fill="#cacaca" stroke="#b9b9b9" stroke-width="0.5" stroke-linejoin="round" fill-opacity="1"/>
<polygon points="540.0,531.0 600.0,532.5 637.1,533.5 637.1,543.5 600.0,542.0 540.0,537.0" fill="#d0d0d0" stroke="#b9b9b9" stroke-width="0.5" stroke-linejoin="round" fill-opacity="1"/>
<polygon points="544.7,539.5 600.0,552.0 636.0,562.5 636.0,574.0 600.0,564.0 544.7,546.0" fill="#cdcdcd" stroke="#b9b9b9" stroke-width="0.5" stroke-linejoin="round" fill-opacity="1"/>
<polygon points="578.0,565.0 636.0,586.5 636.0,584.0 643.0,591.5 636.0,599.0 636.0,597.0 583.0,574.0" fill="#cbcbcb" stroke="#b9b9b9" stroke-width="0.5" stroke-linejoin="round" fill-opacity="1"/>
<polygon points="502.0,556.0 507.0,553.0 555.0,579.0 553.0,586.0 545.0,585.0" fill="#cbcbcb" stroke="#b9b9b9" stroke-width="0.5" stroke-linejoin="round" fill-opacity="1"/>
<path d="M437.0,571.0 C438.7,570.2 444.0,567.2 447.0,566.0 C450.0,564.8 452.5,565.0 455.0,564.0 C457.5,563.0 459.3,560.8 462.0,560.0 C464.7,559.2 468.5,558.5 471.0,559.0 C473.5,559.5 475.5,561.0 477.0,563.0 C478.5,565.0 478.3,568.7 480.0,571.0 C481.7,573.3 485.8,576.0 487.0,577.0" fill="none" stroke="#cdcdcd" stroke-width="2.2" stroke-linecap="round" stroke-linejoin="round" stroke-opacity="1"/>
<polygon points="499.0,577.3 514.0,572.3 514.0,573.8 571.0,586.8 571.0,595.0 514.0,582.6 514.0,584.0" fill="#cfcfcf" stroke="#b9b9b9" stroke-width="0.5" stroke-linejoin="round" fill-opacity="1"/>
<path d="M630,534.5 L637,535 L637,543 L630,542 Z" fill="#f2c4b4"/>
<polyline points="516.5,532.8 517.5,522.0 518.3,514.2" fill="none" stroke="#cfe03e" stroke-width="2.4" stroke-linecap="round" stroke-linejoin="round"/>
<polyline points="512.5,521.3 522.7,521.3" fill="none" stroke="#cfe03e" stroke-width="2.0" stroke-linecap="round" stroke-linejoin="round"/>
<polyline points="513.4,525.3 523.6,525.3" fill="none" stroke="#cfe03e" stroke-width="1.8" stroke-linecap="round" stroke-linejoin="round"/>
<polygon points="518.0,502.3 524.0,505.3 524.0,511.3 518.0,514.3 512.0,511.3 512.0,505.3" fill="none" stroke="#cfe03e" stroke-width="2.2" stroke-linejoin="round"/>
<polyline points="518.3,502.3 518.3,495.6 513.0,491.6 513.0,487.2" fill="none" stroke="#cfe03e" stroke-width="2.2" stroke-linecap="round" stroke-linejoin="round"/>
<polyline points="518.3,495.6 522.7,493.0" fill="none" stroke="#cfe03e" stroke-width="2.0" stroke-linecap="round" stroke-linejoin="round"/>
<polyline points="513.0,491.6 509.4,493.4" fill="none" stroke="#cfe03e" stroke-width="1.6" stroke-linecap="round" stroke-linejoin="round"/>
<polyline points="512.0,505.3 509.0,502.0" fill="none" stroke="#cfe03e" stroke-width="1.4" stroke-linecap="round" stroke-linejoin="round"/>
<polyline points="524.0,505.3 527.0,502.0" fill="none" stroke="#cfe03e" stroke-width="1.4" stroke-linecap="round" stroke-linejoin="round"/>
<polyline points="512.0,511.3 509.0,514.0" fill="none" stroke="#cfe03e" stroke-width="1.4" stroke-linecap="round" stroke-linejoin="round"/>
<polyline points="524.0,511.3 527.0,514.0" fill="none" stroke="#cfe03e" stroke-width="1.4" stroke-linecap="round" stroke-linejoin="round"/>
<polyline points="502.8,520.9 506.0,520.1 510.0,520.1" fill="none" stroke="#6a4fb0" stroke-width="1.8" stroke-linecap="round" stroke-linejoin="round"/>
<polyline points="506.0,520.1 506.0,526.6 506.9,532.2" fill="none" stroke="#6a4fb0" stroke-width="2.2" stroke-linecap="round" stroke-linejoin="round"/>
<polygon points="507.7,531.8 512.7,534.8 512.7,540.8 507.7,543.8 502.7,540.8 502.7,534.8" fill="none" stroke="#6a4fb0" stroke-width="2.0" stroke-linejoin="round"/>
<polyline points="509.3,544.0 510.9,549.0 512.5,557.0" fill="none" stroke="#6a4fb0" stroke-width="2.3" stroke-linecap="round" stroke-linejoin="round"/>
<polyline points="505.0,549.0 516.5,549.0" fill="none" stroke="#6a4fb0" stroke-width="1.7" stroke-linecap="round" stroke-linejoin="round"/>
<polyline points="508.0,553.0 514.0,552.5" fill="none" stroke="#6a4fb0" stroke-width="1.4" stroke-linecap="round" stroke-linejoin="round"/>
<polyline points="502.7,534.8 500.0,533.0" fill="none" stroke="#6a4fb0" stroke-width="1.2" stroke-linecap="round" stroke-linejoin="round"/>
<polyline points="512.7,534.8 515.0,534.0" fill="none" stroke="#6a4fb0" stroke-width="1.2" stroke-linecap="round" stroke-linejoin="round"/>
<polygon points="612.4,499.2 607.9,505.6 596.2,512.4 588.6,512.8 592.8,506.4 604.5,499.6" fill="none" stroke="#2f9a3c" stroke-width="2.2" stroke-linejoin="round"/>
<polyline points="596.2,512.4 607.9,505.6" fill="none" stroke="#4cc24c" stroke-width="1.6" stroke-linecap="round" stroke-linejoin="round"/>
<polyline points="613.5,498.5 616.6,498.3" fill="none" stroke="#4cc24c" stroke-width="2.0" stroke-linecap="round" stroke-linejoin="round"/>
<polyline points="613.5,498.5 613.0,494.6" fill="none" stroke="#4cc24c" stroke-width="1.8" stroke-linecap="round" stroke-linejoin="round"/>
<polyline points="603.0,503.0 600.0,499.0" fill="none" stroke="#4cc24c" stroke-width="1.5" stroke-linecap="round" stroke-linejoin="round"/>
<polyline points="590.1,513.0 589.2,522.9" fill="none" stroke="#4cc24c" stroke-width="2.0" stroke-linecap="round" stroke-linejoin="round"/>
<polyline points="596.5,511.0 597.4,524.7" fill="none" stroke="#4cc24c" stroke-width="2.0" stroke-linecap="round" stroke-linejoin="round"/>
<polyline points="585.0,510.0 590.0,513.0" fill="none" stroke="#4cc24c" stroke-width="1.5" stroke-linecap="round" stroke-linejoin="round"/>
<polyline points="630.0,542.8 631.8,541.0 635.3,539.3 640.6,541.9 642.3,546.3" fill="none" stroke="#dd2a2a" stroke-width="2.2" stroke-linecap="round" stroke-linejoin="round"/>
<polyline points="635.3,539.3 640.6,530.5" fill="none" stroke="#dd2a2a" stroke-width="1.8" stroke-linecap="round" stroke-linejoin="round"/>
<polyline points="640.6,541.9 649.3,542.8" fill="none" stroke="#dd2a2a" stroke-width="2.0" stroke-linecap="round" stroke-linejoin="round"/>
<polygon points="649.3,542.8 656,542.5 665.1,534.9 658,535.5" fill="none" stroke="#dd2a2a" stroke-width="2.0" stroke-linejoin="round"/>
<polyline points="665.1,534.9 668.6,534.0 672.1,530.5" fill="none" stroke="#dd2a2a" stroke-width="1.9" stroke-linecap="round" stroke-linejoin="round"/>
<polyline points="668.6,534.0 675.6,533.1" fill="none" stroke="#dd2a2a" stroke-width="1.5" stroke-linecap="round" stroke-linejoin="round"/>
<polyline points="668.6,534.0 671.2,536.6" fill="none" stroke="#dd2a2a" stroke-width="1.5" stroke-linecap="round" stroke-linejoin="round"/>
<polygon points="602.5,555.7 607.8,558.6 607.8,564.4 602.5,567.3 597.2,564.4 597.2,558.6" fill="none" stroke="#c03cb0" stroke-width="2.0" stroke-linejoin="round"/>
<polyline points="607.8,558.6 610.8,550.7 612.6,548.0" fill="none" stroke="#c03cb0" stroke-width="2.0" stroke-linecap="round" stroke-linejoin="round"/>
<polyline points="610.8,550.7 617.8,550.7" fill="none" stroke="#c03cb0" stroke-width="1.9" stroke-linecap="round" stroke-linejoin="round"/>
<polyline points="616.0,546.3 619.6,551.5" fill="none" stroke="#c03cb0" stroke-width="1.5" stroke-linecap="round" stroke-linejoin="round"/>
<polyline points="597.2,564.4 594.2,570.8 589.8,574.3 582.8,570.8 582.8,565.5" fill="none" stroke="#c03cb0" stroke-width="2.1" stroke-linecap="round" stroke-linejoin="round"/>
<polyline points="586.3,577.8 589.8,574.3 595.0,576.0" fill="none" stroke="#c03cb0" stroke-width="1.6" stroke-linecap="round" stroke-linejoin="round"/>
<polyline points="602.5,555.7 601.0,552.0" fill="none" stroke="#c03cb0" stroke-width="1.2" stroke-linecap="round" stroke-linejoin="round"/>
<polyline points="597.2,558.6 594.0,556.0" fill="none" stroke="#c03cb0" stroke-width="1.2" stroke-linecap="round" stroke-linejoin="round"/>
<polyline points="607.8,564.4 611.0,567.0" fill="none" stroke="#c03cb0" stroke-width="1.2" stroke-linecap="round" stroke-linejoin="round"/>
<polyline points="602.5,567.3 604.0,571.0" fill="none" stroke="#c03cb0" stroke-width="1.2" stroke-linecap="round" stroke-linejoin="round"/>
<polygon points="643,566 648,561 654,563 655,571 650,576 644,573" fill="#5cc8c4" fill-opacity="0.55"/>
<polygon points="648.5,563.5 653.7,566.0 653.7,571.0 648.5,573.5 643.3,571.0 643.3,566.0" fill="none" stroke="#58c9c6" stroke-width="2.0" stroke-linejoin="round"/>
<polygon points="651.0,566.6 655.6,568.8 655.6,573.2 651.0,575.4 646.4,573.2 646.4,568.8" fill="none" stroke="#3fb0ad" stroke-width="1.7" stroke-linejoin="round"/>
<polyline points="643.3,566.5 639.0,565.0" fill="none" stroke="#5fd0d0" stroke-width="1.6" stroke-linecap="round" stroke-linejoin="round"/>
<polyline points="653.7,566.5 658.0,565.0" fill="none" stroke="#5fd0d0" stroke-width="1.6" stroke-linecap="round" stroke-linejoin="round"/>
<polyline points="648.5,563.5 648.0,559.0" fill="none" stroke="#5fd0d0" stroke-width="1.5" stroke-linecap="round" stroke-linejoin="round"/>
<polyline points="648.5,573.5 650.0,579.0" fill="none" stroke="#5fd0d0" stroke-width="1.5" stroke-linecap="round" stroke-linejoin="round"/>
<polyline points="644.0,573.0 640.0,575.0" fill="none" stroke="#5fd0d0" stroke-width="1.4" stroke-linecap="round" stroke-linejoin="round"/>
<polyline points="656.0,574.0 660.0,576.0" fill="none" stroke="#5fd0d0" stroke-width="1.4" stroke-linecap="round" stroke-linejoin="round"/>
<polyline points="655.0,561.0 657.0,558.0" fill="none" stroke="#5fd0d0" stroke-width="1.3" stroke-linecap="round" stroke-linejoin="round"/>
<text x="520.2" y="483.7" font-size="8.45" fill="#c3cf3c" text-anchor="middle" font-family='"Liberation Sans", sans-serif' >S85pAcF</text>
<text x="604.7" y="491.8" font-size="8.45" fill="#45b845" text-anchor="middle" font-family='"Liberation Sans", sans-serif' >S71pAcF</text>
<text x="633.0" y="496.8" font-size="8.45" fill="#f2b5ac" text-anchor="start" font-family='"Liberation Sans", sans-serif' >CDR</text>
<text x="633.0" y="507.0" font-size="8.45" fill="#f2b5ac" text-anchor="start" font-family='"Liberation Sans", sans-serif' >Region</text>
<text x="653.4" y="527.7" font-size="8.45" fill="#d83030" text-anchor="middle" font-family='"Liberation Sans", sans-serif' >N77pAcF</text>
<text x="507.6" y="570.4" font-size="8.45" fill="#6a4fb0" text-anchor="middle" font-family='"Liberation Sans", sans-serif' >K87pAcF</text>
<text x="589.3" y="589.0" font-size="8.45" fill="#b43fc0" text-anchor="middle" font-family='"Liberation Sans", sans-serif' >S8pAcF</text>
<text x="651.0" y="589.0" font-size="8.45" fill="#5cd0d3" text-anchor="middle" font-family='"Liberation Sans", sans-serif' >S26pAcF</text>
</svg>
</body></html>
